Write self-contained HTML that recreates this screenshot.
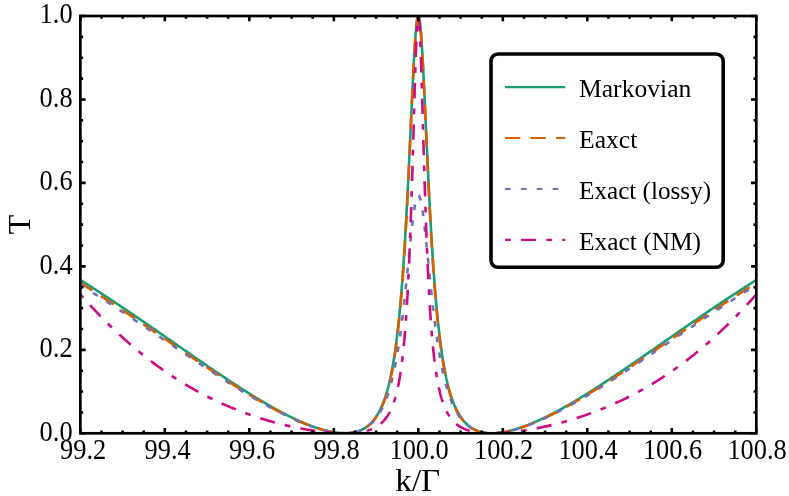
<!DOCTYPE html>
<html><head><meta charset="utf-8"><title>Transmission</title>
<style>
html,body{margin:0;padding:0;background:#fff;}
body{width:789px;height:496px;position:relative;overflow:hidden;font-family:"Liberation Serif",serif;}
</style></head><body>
<svg width="789" height="496" viewBox="0 0 789 496" style="position:absolute;left:0;top:0;will-change:transform">
<defs><clipPath id="c"><rect x="80.35" y="16.0" width="675.9499999999999" height="417.3"/></clipPath></defs>
<g clip-path="url(#c)" fill="none" stroke-linejoin="round">
<path d="M80.35,279.97 L81.41,280.63 L82.46,281.30 L83.52,281.97 L84.57,282.64 L85.63,283.31 L86.69,283.99 L87.74,284.66 L88.80,285.34 L89.86,286.01 L90.91,286.69 L91.97,287.37 L93.02,288.05 L94.08,288.73 L95.14,289.42 L96.19,290.10 L97.25,290.79 L98.30,291.47 L99.36,292.16 L100.42,292.85 L101.47,293.54 L102.53,294.23 L103.59,294.92 L104.64,295.61 L105.70,296.31 L106.75,297.00 L107.81,297.70 L108.87,298.40 L109.92,299.09 L110.98,299.79 L112.04,300.49 L113.09,301.19 L114.15,301.90 L115.20,302.60 L116.26,303.30 L117.32,304.01 L118.37,304.72 L119.43,305.42 L120.48,306.13 L121.54,306.84 L122.60,307.55 L123.65,308.26 L124.71,308.97 L125.77,309.68 L126.82,310.40 L127.88,311.11 L128.93,311.83 L129.99,312.54 L131.05,313.26 L132.10,313.98 L133.16,314.69 L134.21,315.41 L135.27,316.13 L136.33,316.85 L137.38,317.57 L138.44,318.29 L139.50,319.02 L140.55,319.74 L141.61,320.46 L142.66,321.19 L143.72,321.91 L144.78,322.64 L145.83,323.36 L146.89,324.09 L147.94,324.82 L149.00,325.54 L150.06,326.27 L151.11,327.00 L152.17,327.73 L153.23,328.46 L154.28,329.19 L155.34,329.92 L156.39,330.65 L157.45,331.38 L158.51,332.11 L159.56,332.85 L160.62,333.58 L161.68,334.31 L162.73,335.04 L163.79,335.78 L164.84,336.51 L165.90,337.24 L166.96,337.98 L168.01,338.71 L169.07,339.44 L170.12,340.18 L171.18,340.91 L172.24,341.65 L173.29,342.38 L174.35,343.11 L175.41,343.85 L176.46,344.58 L177.52,345.32 L178.57,346.05 L179.63,346.79 L180.69,347.52 L181.74,348.25 L182.80,348.99 L183.85,349.72 L184.91,350.45 L185.97,351.19 L187.02,351.92 L188.08,352.65 L189.14,353.38 L190.19,354.12 L191.25,354.85 L192.30,355.58 L193.36,356.31 L194.42,357.04 L195.47,357.77 L196.53,358.50 L197.59,359.23 L198.64,359.96 L199.70,360.68 L200.75,361.41 L201.81,362.14 L202.87,362.86 L203.92,363.59 L204.98,364.31 L206.03,365.03 L207.09,365.76 L208.15,366.48 L209.20,367.20 L210.26,367.92 L211.32,368.64 L212.37,369.36 L213.43,370.07 L214.48,370.79 L215.54,371.50 L216.60,372.22 L217.65,372.93 L218.71,373.64 L219.76,374.35 L220.82,375.06 L221.88,375.77 L222.93,376.47 L223.99,377.18 L225.05,377.88 L226.10,378.59 L227.16,379.29 L228.21,379.99 L229.27,380.68 L230.33,381.38 L231.38,382.07 L232.44,382.77 L233.49,383.46 L234.55,384.15 L235.61,384.83 L236.66,385.52 L237.72,386.20 L238.78,386.88 L239.83,387.56 L240.89,388.24 L241.94,388.92 L243.00,389.59 L244.06,390.26 L245.11,390.93 L246.17,391.60 L247.23,392.26 L248.28,392.93 L249.34,393.59 L250.39,394.24 L251.45,394.90 L252.51,395.55 L253.56,396.20 L254.62,396.85 L255.67,397.49 L256.73,398.14 L257.79,398.78 L258.84,399.41 L259.90,400.05 L260.96,400.68 L262.01,401.30 L263.07,401.93 L264.12,402.55 L265.18,403.17 L266.24,403.78 L267.29,404.39 L268.35,405.00 L269.40,405.61 L270.46,406.21 L271.52,406.81 L272.57,407.40 L273.63,407.99 L274.69,408.58 L275.74,409.16 L276.80,409.74 L277.85,410.31 L278.91,410.88 L279.97,411.45 L281.02,412.01 L282.08,412.57 L283.14,413.13 L284.19,413.68 L285.25,414.22 L286.30,414.76 L287.36,415.30 L288.42,415.83 L289.47,416.35 L290.53,416.88 L291.58,417.39 L292.64,417.90 L293.70,418.41 L294.75,418.91 L295.81,419.40 L296.87,419.89 L297.92,420.38 L298.98,420.85 L300.03,421.33 L301.09,421.79 L302.15,422.25 L303.20,422.71 L304.26,423.15 L305.31,423.59 L306.37,424.03 L307.43,424.45 L308.48,424.87 L309.54,425.29 L310.60,425.69 L311.65,426.09 L312.71,426.48 L313.76,426.86 L314.82,427.24 L315.88,427.60 L316.93,427.96 L317.99,428.31 L319.04,428.65 L320.10,428.98 L321.16,429.30 L322.21,429.61 L323.27,429.91 L324.33,430.21 L325.38,430.49 L326.44,430.76 L327.49,431.02 L328.55,431.26 L329.61,431.50 L330.66,431.72 L331.72,431.93 L332.78,432.13 L333.83,432.32 L334.89,432.49 L335.94,432.64 L337.00,432.78 L338.06,432.91 L339.11,433.02 L340.17,433.11 L341.22,433.18 L342.28,433.24 L343.34,433.28 L344.39,433.30 L345.45,433.30 L346.51,433.27 L347.56,433.23 L348.62,433.16 L349.67,433.06 L350.73,432.94 L351.79,432.80 L352.84,432.62 L353.90,432.42 L354.95,432.18 L356.01,431.91 L357.07,431.61 L358.12,431.27 L359.18,430.89 L360.24,430.47 L361.29,430.00 L362.35,429.49 L363.40,428.93 L364.46,428.31 L365.52,427.64 L366.57,426.92 L367.63,426.12 L368.68,425.26 L369.74,424.32 L370.80,423.31 L371.85,422.21 L372.91,421.02 L373.97,419.73 L375.02,418.33 L376.08,416.82 L377.13,415.19 L378.19,413.41 L379.25,411.49 L380.30,409.41 L381.36,407.16 L382.42,404.71 L383.47,402.06 L384.53,399.17 L384.53,399.17 L384.63,398.87 L384.74,398.56 L384.84,398.26 L384.95,397.95 L385.06,397.63 L385.16,397.32 L385.27,397.00 L385.37,396.68 L385.48,396.36 L385.58,396.03 L385.58,396.03 L385.69,395.70 L385.79,395.37 L385.90,395.04 L386.01,394.70 L386.11,394.36 L386.22,394.02 L386.32,393.67 L386.43,393.32 L386.53,392.97 L386.64,392.61 L386.64,392.61 L386.75,392.26 L386.85,391.89 L386.96,391.53 L387.06,391.16 L387.17,390.79 L387.27,390.42 L387.38,390.04 L387.48,389.66 L387.59,389.28 L387.70,388.89 L387.80,388.50 L387.91,388.11 L388.01,387.71 L388.12,387.31 L388.22,386.90 L388.33,386.50 L388.44,386.09 L388.54,385.67 L388.65,385.25 L388.75,384.83 L388.75,384.83 L388.86,384.40 L388.96,383.97 L389.07,383.54 L389.17,383.10 L389.28,382.66 L389.39,382.22 L389.49,381.77 L389.60,381.31 L389.70,380.86 L389.81,380.39 L389.91,379.93 L390.02,379.46 L390.13,378.99 L390.23,378.51 L390.34,378.03 L390.44,377.54 L390.55,377.05 L390.65,376.55 L390.76,376.05 L390.86,375.55 L390.86,375.55 L390.97,375.04 L391.08,374.52 L391.18,374.01 L391.29,373.48 L391.39,372.95 L391.50,372.42 L391.60,371.88 L391.71,371.34 L391.82,370.79 L391.92,370.24 L392.03,369.68 L392.13,369.12 L392.24,368.55 L392.34,367.98 L392.45,367.40 L392.55,366.82 L392.66,366.23 L392.77,365.63 L392.87,365.03 L392.98,364.43 L392.98,364.43 L393.08,363.82 L393.19,363.20 L393.29,362.58 L393.40,361.95 L393.50,361.31 L393.61,360.67 L393.72,360.03 L393.82,359.37 L393.93,358.71 L394.03,358.05 L394.03,358.05 L394.14,357.38 L394.24,356.70 L394.35,356.02 L394.46,355.33 L394.56,354.63 L394.67,353.93 L394.77,353.22 L394.88,352.50 L394.98,351.78 L395.09,351.05 L395.09,351.05 L395.19,350.31 L395.30,349.57 L395.41,348.82 L395.51,348.06 L395.62,347.29 L395.72,346.52 L395.83,345.74 L395.93,344.95 L396.04,344.16 L396.15,343.35 L396.15,343.35 L396.25,342.54 L396.36,341.72 L396.46,340.90 L396.57,340.06 L396.67,339.22 L396.78,338.37 L396.88,337.51 L396.99,336.65 L397.10,335.77 L397.20,334.89 L397.20,334.89 L397.31,334.00 L397.41,333.10 L397.52,332.19 L397.62,331.27 L397.73,330.34 L397.84,329.41 L397.94,328.47 L398.05,327.51 L398.15,326.55 L398.26,325.58 L398.26,325.58 L398.36,324.60 L398.47,323.60 L398.57,322.60 L398.68,321.59 L398.79,320.57 L398.89,319.54 L399.00,318.51 L399.10,317.46 L399.21,316.40 L399.31,315.33 L399.31,315.33 L399.42,314.25 L399.53,313.16 L399.63,312.05 L399.74,310.94 L399.84,309.82 L399.95,308.69 L400.05,307.54 L400.16,306.39 L400.26,305.22 L400.37,304.04 L400.37,304.04 L400.48,302.86 L400.58,301.66 L400.69,300.44 L400.79,299.22 L400.90,297.99 L401.00,296.74 L401.11,295.48 L401.22,294.21 L401.32,292.93 L401.43,291.64 L401.43,291.64 L401.53,290.33 L401.64,289.01 L401.74,287.68 L401.85,286.34 L401.95,284.98 L402.06,283.61 L402.17,282.23 L402.27,280.84 L402.38,279.43 L402.48,278.01 L402.48,278.01 L402.59,276.58 L402.69,275.13 L402.80,273.67 L402.90,272.20 L403.01,270.71 L403.12,269.21 L403.22,267.70 L403.33,266.17 L403.43,264.63 L403.54,263.08 L403.54,263.08 L403.64,261.51 L403.75,259.93 L403.86,258.33 L403.96,256.72 L404.07,255.10 L404.17,253.46 L404.28,251.81 L404.38,250.14 L404.49,248.46 L404.59,246.77 L404.59,246.77 L404.70,245.06 L404.81,243.33 L404.91,241.60 L405.02,239.85 L405.12,238.08 L405.23,236.30 L405.33,234.50 L405.44,232.70 L405.55,230.87 L405.65,229.04 L405.65,229.04 L405.76,227.18 L405.86,225.32 L405.97,223.44 L406.07,221.54 L406.18,219.64 L406.28,217.71 L406.39,215.78 L406.50,213.83 L406.60,211.86 L406.71,209.89 L406.71,209.89 L406.81,207.90 L406.92,205.89 L407.02,203.87 L407.13,201.84 L407.24,199.80 L407.34,197.74 L407.45,195.67 L407.55,193.59 L407.66,191.50 L407.76,189.39 L407.76,189.39 L407.87,187.27 L407.97,185.14 L408.08,183.00 L408.19,180.85 L408.29,178.69 L408.40,176.51 L408.50,174.33 L408.61,172.13 L408.71,169.93 L408.82,167.71 L408.82,167.71 L408.93,165.49 L409.03,163.26 L409.14,161.02 L409.24,158.77 L409.35,156.51 L409.45,154.25 L409.56,151.98 L409.66,149.71 L409.77,147.42 L409.88,145.14 L409.88,145.14 L409.98,142.85 L410.09,140.55 L410.19,138.25 L410.30,135.95 L410.40,133.64 L410.51,131.34 L410.61,129.03 L410.72,126.72 L410.83,124.41 L410.93,122.11 L410.93,122.11 L411.04,119.80 L411.14,117.50 L411.25,115.19 L411.35,112.90 L411.46,110.60 L411.57,108.32 L411.67,106.03 L411.78,103.76 L411.88,101.49 L411.99,99.23 L411.99,99.23 L412.09,96.98 L412.20,94.74 L412.30,92.52 L412.41,90.30 L412.52,88.10 L412.62,85.91 L412.73,83.74 L412.83,81.58 L412.94,79.44 L413.04,77.31 L413.04,77.31 L413.15,75.21 L413.26,73.12 L413.36,71.06 L413.47,69.02 L413.57,67.00 L413.68,65.01 L413.78,63.04 L413.89,61.10 L413.99,59.18 L414.10,57.29 L414.10,57.29 L414.21,55.43 L414.31,53.61 L414.42,51.81 L414.52,50.05 L414.63,48.32 L414.73,46.62 L414.84,44.96 L414.95,43.34 L415.05,41.76 L415.16,40.21 L415.16,40.21 L415.26,38.71 L415.37,37.24 L415.47,35.82 L415.58,34.44 L415.68,33.10 L415.79,31.81 L415.90,30.56 L416.00,29.36 L416.11,28.20 L416.21,27.10 L416.32,26.04 L416.42,25.03 L416.53,24.07 L416.64,23.17 L416.74,22.31 L416.85,21.51 L416.95,20.76 L417.06,20.06 L417.16,19.42 L417.27,18.83 L417.27,18.83 L417.37,18.29 L417.48,17.81 L417.59,17.39 L417.69,17.02 L417.80,16.71 L417.90,16.45 L418.01,16.26 L418.11,16.11 L418.22,16.03 L418.32,16.00 L418.43,16.03 L418.54,16.11 L418.64,16.26 L418.75,16.45 L418.85,16.71 L418.96,17.02 L419.06,17.39 L419.17,17.81 L419.28,18.29 L419.38,18.83 L419.38,18.83 L419.49,19.42 L419.59,20.06 L419.70,20.76 L419.80,21.51 L419.91,22.31 L420.01,23.17 L420.12,24.07 L420.23,25.03 L420.33,26.04 L420.44,27.10 L420.54,28.20 L420.65,29.36 L420.75,30.56 L420.86,31.81 L420.97,33.10 L421.07,34.44 L421.18,35.82 L421.28,37.24 L421.39,38.71 L421.49,40.21 L421.49,40.21 L421.60,41.76 L421.70,43.34 L421.81,44.96 L421.92,46.62 L422.02,48.32 L422.13,50.05 L422.23,51.81 L422.34,53.61 L422.44,55.43 L422.55,57.29 L422.55,57.29 L422.66,59.18 L422.76,61.10 L422.87,63.04 L422.97,65.01 L423.08,67.00 L423.18,69.02 L423.29,71.06 L423.39,73.12 L423.50,75.21 L423.61,77.31 L423.61,77.31 L423.71,79.44 L423.82,81.58 L423.92,83.74 L424.03,85.91 L424.13,88.10 L424.24,90.30 L424.35,92.52 L424.45,94.74 L424.56,96.98 L424.66,99.23 L424.66,99.23 L424.77,101.49 L424.87,103.76 L424.98,106.03 L425.08,108.32 L425.19,110.60 L425.30,112.90 L425.40,115.19 L425.51,117.50 L425.61,119.80 L425.72,122.11 L425.72,122.11 L425.82,124.41 L425.93,126.72 L426.04,129.03 L426.14,131.34 L426.25,133.64 L426.35,135.95 L426.46,138.25 L426.56,140.55 L426.67,142.85 L426.77,145.14 L426.77,145.14 L426.88,147.42 L426.99,149.71 L427.09,151.98 L427.20,154.25 L427.30,156.51 L427.41,158.77 L427.51,161.02 L427.62,163.26 L427.72,165.49 L427.83,167.71 L427.83,167.71 L427.94,169.93 L428.04,172.13 L428.15,174.33 L428.25,176.51 L428.36,178.69 L428.46,180.85 L428.57,183.00 L428.68,185.14 L428.78,187.27 L428.89,189.39 L428.89,189.39 L428.99,191.50 L429.10,193.59 L429.20,195.67 L429.31,197.74 L429.41,199.80 L429.52,201.84 L429.63,203.87 L429.73,205.89 L429.84,207.90 L429.94,209.89 L429.94,209.89 L430.05,211.86 L430.15,213.83 L430.26,215.78 L430.37,217.71 L430.47,219.64 L430.58,221.54 L430.68,223.44 L430.79,225.32 L430.89,227.18 L431.00,229.04 L431.00,229.04 L431.10,230.87 L431.21,232.70 L431.32,234.50 L431.42,236.30 L431.53,238.08 L431.63,239.85 L431.74,241.60 L431.84,243.33 L431.95,245.06 L432.06,246.77 L432.06,246.77 L432.16,248.46 L432.27,250.14 L432.37,251.81 L432.48,253.46 L432.58,255.10 L432.69,256.72 L432.79,258.33 L432.90,259.93 L433.01,261.51 L433.11,263.08 L433.11,263.08 L433.22,264.63 L433.32,266.17 L433.43,267.70 L433.53,269.21 L433.64,270.71 L433.75,272.20 L433.85,273.67 L433.96,275.13 L434.06,276.58 L434.17,278.01 L434.17,278.01 L434.27,279.43 L434.38,280.84 L434.48,282.23 L434.59,283.61 L434.70,284.98 L434.80,286.34 L434.91,287.68 L435.01,289.01 L435.12,290.33 L435.22,291.64 L435.22,291.64 L435.33,292.93 L435.43,294.21 L435.54,295.48 L435.65,296.74 L435.75,297.99 L435.86,299.22 L435.96,300.44 L436.07,301.66 L436.17,302.86 L436.28,304.04 L436.28,304.04 L436.39,305.22 L436.49,306.39 L436.60,307.54 L436.70,308.69 L436.81,309.82 L436.91,310.94 L437.02,312.05 L437.12,313.16 L437.23,314.25 L437.34,315.33 L437.34,315.33 L437.44,316.40 L437.55,317.46 L437.65,318.51 L437.76,319.54 L437.86,320.57 L437.97,321.59 L438.08,322.60 L438.18,323.60 L438.29,324.60 L438.39,325.58 L438.39,325.58 L438.50,326.55 L438.60,327.51 L438.71,328.47 L438.81,329.41 L438.92,330.34 L439.03,331.27 L439.13,332.19 L439.24,333.10 L439.34,334.00 L439.45,334.89 L439.45,334.89 L439.55,335.77 L439.66,336.65 L439.77,337.51 L439.87,338.37 L439.98,339.22 L440.08,340.06 L440.19,340.90 L440.29,341.72 L440.40,342.54 L440.50,343.35 L440.50,343.35 L440.61,344.16 L440.72,344.95 L440.82,345.74 L440.93,346.52 L441.03,347.29 L441.14,348.06 L441.24,348.82 L441.35,349.57 L441.46,350.31 L441.56,351.05 L441.56,351.05 L441.67,351.78 L441.77,352.50 L441.88,353.22 L441.98,353.93 L442.09,354.63 L442.19,355.33 L442.30,356.02 L442.41,356.70 L442.51,357.38 L442.62,358.05 L442.62,358.05 L442.72,358.71 L442.83,359.37 L442.93,360.03 L443.04,360.67 L443.15,361.31 L443.25,361.95 L443.36,362.58 L443.46,363.20 L443.57,363.82 L443.67,364.43 L443.67,364.43 L443.78,365.03 L443.88,365.63 L443.99,366.23 L444.10,366.82 L444.20,367.40 L444.31,367.98 L444.41,368.55 L444.52,369.12 L444.62,369.68 L444.73,370.24 L444.73,370.24 L444.83,370.79 L444.94,371.34 L445.05,371.88 L445.15,372.42 L445.26,372.95 L445.36,373.48 L445.47,374.01 L445.57,374.52 L445.68,375.04 L445.79,375.55 L445.79,375.55 L445.89,376.05 L446.00,376.55 L446.10,377.05 L446.21,377.54 L446.31,378.03 L446.42,378.51 L446.52,378.99 L446.63,379.46 L446.74,379.93 L446.84,380.39 L446.84,380.39 L446.95,380.86 L447.05,381.31 L447.16,381.77 L447.26,382.22 L447.37,382.66 L447.48,383.10 L447.58,383.54 L447.69,383.97 L447.79,384.40 L447.90,384.83 L447.90,384.83 L448.00,385.25 L448.11,385.67 L448.21,386.09 L448.32,386.50 L448.43,386.90 L448.53,387.31 L448.64,387.71 L448.74,388.11 L448.85,388.50 L448.95,388.89 L448.95,388.89 L449.06,389.28 L449.17,389.66 L449.27,390.04 L449.38,390.42 L449.48,390.79 L449.59,391.16 L449.69,391.53 L449.80,391.89 L449.90,392.26 L450.01,392.61 L450.01,392.61 L450.12,392.97 L450.22,393.32 L450.33,393.67 L450.43,394.02 L450.54,394.36 L450.64,394.70 L450.75,395.04 L450.86,395.37 L450.96,395.70 L451.07,396.03 L451.07,396.03 L451.17,396.36 L451.28,396.68 L451.38,397.00 L451.49,397.32 L451.59,397.63 L451.70,397.95 L451.81,398.26 L451.91,398.56 L452.02,398.87 L452.12,399.17 L452.12,399.17 L453.18,402.06 L454.23,404.71 L455.29,407.16 L456.35,409.41 L457.40,411.49 L458.46,413.41 L459.52,415.19 L460.57,416.82 L461.63,418.33 L462.68,419.73 L463.74,421.02 L464.80,422.21 L465.85,423.31 L466.91,424.32 L467.97,425.26 L469.02,426.12 L470.08,426.92 L471.13,427.64 L472.19,428.31 L473.25,428.93 L474.30,429.49 L475.36,430.00 L476.41,430.47 L477.47,430.89 L478.53,431.27 L479.58,431.61 L480.64,431.91 L481.70,432.18 L482.75,432.42 L483.81,432.62 L484.86,432.80 L485.92,432.94 L486.98,433.06 L488.03,433.16 L489.09,433.23 L490.14,433.27 L491.20,433.30 L492.26,433.30 L493.31,433.28 L494.37,433.24 L495.43,433.18 L496.48,433.11 L497.54,433.02 L498.59,432.91 L499.65,432.78 L500.71,432.64 L501.76,432.49 L502.82,432.32 L503.87,432.13 L504.93,431.93 L505.99,431.72 L507.04,431.50 L508.10,431.26 L509.16,431.02 L510.21,430.76 L511.27,430.49 L512.32,430.21 L513.38,429.91 L514.44,429.61 L515.49,429.30 L516.55,428.98 L517.61,428.65 L518.66,428.31 L519.72,427.96 L520.77,427.60 L521.83,427.24 L522.89,426.86 L523.94,426.48 L525.00,426.09 L526.05,425.69 L527.11,425.29 L528.17,424.87 L529.22,424.45 L530.28,424.03 L531.34,423.59 L532.39,423.15 L533.45,422.71 L534.50,422.25 L535.56,421.79 L536.62,421.33 L537.67,420.85 L538.73,420.38 L539.78,419.89 L540.84,419.40 L541.90,418.91 L542.95,418.41 L544.01,417.90 L545.07,417.39 L546.12,416.88 L547.18,416.35 L548.23,415.83 L549.29,415.30 L550.35,414.76 L551.40,414.22 L552.46,413.68 L553.51,413.13 L554.57,412.57 L555.63,412.01 L556.68,411.45 L557.74,410.88 L558.80,410.31 L559.85,409.74 L560.91,409.16 L561.96,408.58 L563.02,407.99 L564.08,407.40 L565.13,406.81 L566.19,406.21 L567.25,405.61 L568.30,405.00 L569.36,404.39 L570.41,403.78 L571.47,403.17 L572.53,402.55 L573.58,401.93 L574.64,401.30 L575.69,400.68 L576.75,400.05 L577.81,399.41 L578.86,398.78 L579.92,398.14 L580.98,397.49 L582.03,396.85 L583.09,396.20 L584.14,395.55 L585.20,394.90 L586.26,394.24 L587.31,393.59 L588.37,392.93 L589.42,392.26 L590.48,391.60 L591.54,390.93 L592.59,390.26 L593.65,389.59 L594.71,388.92 L595.76,388.24 L596.82,387.56 L597.87,386.88 L598.93,386.20 L599.99,385.52 L601.04,384.83 L602.10,384.15 L603.16,383.46 L604.21,382.77 L605.27,382.07 L606.32,381.38 L607.38,380.68 L608.44,379.99 L609.49,379.29 L610.55,378.59 L611.60,377.88 L612.66,377.18 L613.72,376.47 L614.77,375.77 L615.83,375.06 L616.89,374.35 L617.94,373.64 L619.00,372.93 L620.05,372.22 L621.11,371.50 L622.17,370.79 L623.22,370.07 L624.28,369.36 L625.33,368.64 L626.39,367.92 L627.45,367.20 L628.50,366.48 L629.56,365.76 L630.62,365.03 L631.67,364.31 L632.73,363.59 L633.78,362.86 L634.84,362.14 L635.90,361.41 L636.95,360.68 L638.01,359.96 L639.06,359.23 L640.12,358.50 L641.18,357.77 L642.23,357.04 L643.29,356.31 L644.35,355.58 L645.40,354.85 L646.46,354.12 L647.51,353.38 L648.57,352.65 L649.63,351.92 L650.68,351.19 L651.74,350.45 L652.80,349.72 L653.85,348.99 L654.91,348.25 L655.96,347.52 L657.02,346.79 L658.08,346.05 L659.13,345.32 L660.19,344.58 L661.24,343.85 L662.30,343.11 L663.36,342.38 L664.41,341.65 L665.47,340.91 L666.53,340.18 L667.58,339.44 L668.64,338.71 L669.69,337.98 L670.75,337.24 L671.81,336.51 L672.86,335.78 L673.92,335.04 L674.97,334.31 L676.03,333.58 L677.09,332.85 L678.14,332.11 L679.20,331.38 L680.26,330.65 L681.31,329.92 L682.37,329.19 L683.42,328.46 L684.48,327.73 L685.54,327.00 L686.59,326.27 L687.65,325.54 L688.70,324.82 L689.76,324.09 L690.82,323.36 L691.87,322.64 L692.93,321.91 L693.99,321.19 L695.04,320.46 L696.10,319.74 L697.15,319.02 L698.21,318.29 L699.27,317.57 L700.32,316.85 L701.38,316.13 L702.44,315.41 L703.49,314.69 L704.55,313.98 L705.60,313.26 L706.66,312.54 L707.72,311.83 L708.77,311.11 L709.83,310.40 L710.88,309.68 L711.94,308.97 L713.00,308.26 L714.05,307.55 L715.11,306.84 L716.17,306.13 L717.22,305.42 L718.28,304.72 L719.33,304.01 L720.39,303.30 L721.45,302.60 L722.50,301.90 L723.56,301.19 L724.61,300.49 L725.67,299.79 L726.73,299.09 L727.78,298.40 L728.84,297.70 L729.90,297.00 L730.95,296.31 L732.01,295.61 L733.06,294.92 L734.12,294.23 L735.18,293.54 L736.23,292.85 L737.29,292.16 L738.35,291.47 L739.40,290.79 L740.46,290.10 L741.51,289.42 L742.57,288.73 L743.63,288.05 L744.68,287.37 L745.74,286.69 L746.79,286.01 L747.85,285.34 L748.91,284.66 L749.96,283.99 L751.02,283.31 L752.08,282.64 L753.13,281.97 L754.19,281.30 L755.24,280.63 L756.30,279.97" stroke="#1b9e77" stroke-width="2.6"/>
<path d="M80.35,282.92 L81.41,283.58 L82.46,284.25 L83.52,284.91 L84.57,285.57 L85.63,286.24 L86.69,286.91 L87.74,287.58 L88.80,288.25 L89.86,288.92 L90.91,289.59 L91.97,290.26 L93.02,290.94 L94.08,291.61 L95.14,292.29 L96.19,292.97 L97.25,293.65 L98.30,294.33 L99.36,295.01 L100.42,295.69 L101.47,296.37 L102.53,297.06 L103.59,297.74 L104.64,298.43 L105.70,299.11 L106.75,299.80 L107.81,300.49 L108.87,301.18 L109.92,301.87 L110.98,302.56 L112.04,303.26 L113.09,303.95 L114.15,304.64 L115.20,305.34 L116.26,306.04 L117.32,306.73 L118.37,307.43 L119.43,308.13 L120.48,308.83 L121.54,309.53 L122.60,310.23 L123.65,310.93 L124.71,311.64 L125.77,312.34 L126.82,313.05 L127.88,313.75 L128.93,314.46 L129.99,315.16 L131.05,315.87 L132.10,316.58 L133.16,317.29 L134.21,318.00 L135.27,318.71 L136.33,319.42 L137.38,320.13 L138.44,320.84 L139.50,321.55 L140.55,322.27 L141.61,322.98 L142.66,323.69 L143.72,324.41 L144.78,325.12 L145.83,325.84 L146.89,326.55 L147.94,327.27 L149.00,327.99 L150.06,328.71 L151.11,329.42 L152.17,330.14 L153.23,330.86 L154.28,331.58 L155.34,332.30 L156.39,333.02 L157.45,333.74 L158.51,334.46 L159.56,335.18 L160.62,335.90 L161.68,336.62 L162.73,337.34 L163.79,338.06 L164.84,338.78 L165.90,339.50 L166.96,340.23 L168.01,340.95 L169.07,341.67 L170.12,342.39 L171.18,343.11 L172.24,343.83 L173.29,344.56 L174.35,345.28 L175.41,346.00 L176.46,346.72 L177.52,347.44 L178.57,348.16 L179.63,348.88 L180.69,349.61 L181.74,350.33 L182.80,351.05 L183.85,351.77 L184.91,352.49 L185.97,353.21 L187.02,353.93 L188.08,354.64 L189.14,355.36 L190.19,356.08 L191.25,356.80 L192.30,357.52 L193.36,358.23 L194.42,358.95 L195.47,359.66 L196.53,360.38 L197.59,361.09 L198.64,361.81 L199.70,362.52 L200.75,363.23 L201.81,363.94 L202.87,364.66 L203.92,365.37 L204.98,366.07 L206.03,366.78 L207.09,367.49 L208.15,368.20 L209.20,368.90 L210.26,369.61 L211.32,370.31 L212.37,371.02 L213.43,371.72 L214.48,372.42 L215.54,373.12 L216.60,373.82 L217.65,374.51 L218.71,375.21 L219.76,375.90 L220.82,376.60 L221.88,377.29 L222.93,377.98 L223.99,378.67 L225.05,379.36 L226.10,380.04 L227.16,380.73 L228.21,381.41 L229.27,382.09 L230.33,382.77 L231.38,383.45 L232.44,384.13 L233.49,384.80 L234.55,385.48 L235.61,386.15 L236.66,386.82 L237.72,387.48 L238.78,388.15 L239.83,388.81 L240.89,389.47 L241.94,390.13 L243.00,390.79 L244.06,391.45 L245.11,392.10 L246.17,392.75 L247.23,393.40 L248.28,394.04 L249.34,394.69 L250.39,395.33 L251.45,395.97 L252.51,396.60 L253.56,397.24 L254.62,397.87 L255.67,398.50 L256.73,399.12 L257.79,399.75 L258.84,400.37 L259.90,400.98 L260.96,401.60 L262.01,402.21 L263.07,402.82 L264.12,403.42 L265.18,404.02 L266.24,404.62 L267.29,405.22 L268.35,405.81 L269.40,406.40 L270.46,406.98 L271.52,407.57 L272.57,408.14 L273.63,408.72 L274.69,409.29 L275.74,409.86 L276.80,410.42 L277.85,410.98 L278.91,411.53 L279.97,412.09 L281.02,412.63 L282.08,413.18 L283.14,413.71 L284.19,414.25 L285.25,414.78 L286.30,415.30 L287.36,415.83 L288.42,416.34 L289.47,416.85 L290.53,417.36 L291.58,417.86 L292.64,418.36 L293.70,418.85 L294.75,419.34 L295.81,419.82 L296.87,420.29 L297.92,420.76 L298.98,421.23 L300.03,421.68 L301.09,422.14 L302.15,422.58 L303.20,423.02 L304.26,423.46 L305.31,423.88 L306.37,424.31 L307.43,424.72 L308.48,425.13 L309.54,425.53 L310.60,425.92 L311.65,426.31 L312.71,426.69 L313.76,427.06 L314.82,427.42 L315.88,427.78 L316.93,428.12 L317.99,428.46 L319.04,428.79 L320.10,429.11 L321.16,429.42 L322.21,429.72 L323.27,430.02 L324.33,430.30 L325.38,430.57 L326.44,430.83 L327.49,431.09 L328.55,431.33 L329.61,431.55 L330.66,431.77 L331.72,431.98 L332.78,432.17 L333.83,432.35 L334.89,432.51 L335.94,432.66 L337.00,432.80 L338.06,432.92 L339.11,433.03 L340.17,433.12 L341.22,433.19 L342.28,433.24 L343.34,433.28 L344.39,433.30 L345.45,433.30 L346.51,433.27 L347.56,433.23 L348.62,433.16 L349.67,433.07 L350.73,432.95 L351.79,432.81 L352.84,432.64 L353.90,432.44 L354.95,432.22 L356.01,431.95 L357.07,431.66 L358.12,431.33 L359.18,430.96 L360.24,430.55 L361.29,430.10 L362.35,429.61 L363.40,429.06 L364.46,428.47 L365.52,427.82 L366.57,427.11 L367.63,426.34 L368.68,425.50 L369.74,424.59 L370.80,423.61 L371.85,422.54 L372.91,421.38 L373.97,420.13 L375.02,418.78 L376.08,417.31 L377.13,415.72 L378.19,414.00 L379.25,412.13 L380.30,410.11 L381.36,407.91 L382.42,405.53 L383.47,402.95 L384.53,400.14 L384.53,400.14 L384.63,399.84 L384.74,399.54 L384.84,399.24 L384.95,398.94 L385.06,398.64 L385.16,398.33 L385.27,398.02 L385.37,397.71 L385.48,397.39 L385.58,397.08 L385.58,397.08 L385.69,396.76 L385.79,396.43 L385.90,396.11 L386.01,395.78 L386.11,395.45 L386.22,395.11 L386.32,394.77 L386.43,394.43 L386.53,394.09 L386.64,393.75 L386.64,393.75 L386.75,393.40 L386.85,393.04 L386.96,392.69 L387.06,392.33 L387.17,391.97 L387.27,391.60 L387.38,391.24 L387.48,390.87 L387.59,390.49 L387.70,390.11 L387.80,389.73 L387.91,389.35 L388.01,388.96 L388.12,388.57 L388.22,388.18 L388.33,387.78 L388.44,387.38 L388.54,386.97 L388.65,386.56 L388.75,386.15 L388.75,386.15 L388.86,385.73 L388.96,385.31 L389.07,384.89 L389.17,384.46 L389.28,384.03 L389.39,383.60 L389.49,383.16 L389.60,382.72 L389.70,382.27 L389.81,381.82 L389.91,381.36 L390.02,380.91 L390.13,380.44 L390.23,379.98 L390.34,379.50 L390.44,379.03 L390.55,378.55 L390.65,378.06 L390.76,377.57 L390.86,377.08 L390.86,377.08 L390.97,376.58 L391.08,376.08 L391.18,375.57 L391.29,375.06 L391.39,374.55 L391.50,374.03 L391.60,373.50 L391.71,372.97 L391.82,372.43 L391.92,371.89 L392.03,371.35 L392.13,370.80 L392.24,370.24 L392.34,369.68 L392.45,369.11 L392.55,368.54 L392.66,367.97 L392.77,367.38 L392.87,366.80 L392.98,366.20 L392.98,366.20 L393.08,365.60 L393.19,365.00 L393.29,364.39 L393.40,363.77 L393.50,363.15 L393.61,362.52 L393.72,361.89 L393.82,361.25 L393.93,360.61 L394.03,359.95 L394.03,359.95 L394.14,359.30 L394.24,358.63 L394.35,357.96 L394.46,357.29 L394.56,356.60 L394.67,355.91 L394.77,355.22 L394.88,354.51 L394.98,353.81 L395.09,353.09 L395.09,353.09 L395.19,352.37 L395.30,351.64 L395.41,350.90 L395.51,350.15 L395.62,349.40 L395.72,348.64 L395.83,347.88 L395.93,347.10 L396.04,346.32 L396.15,345.53 L396.15,345.53 L396.25,344.74 L396.36,343.93 L396.46,343.12 L396.57,342.30 L396.67,341.48 L396.78,340.64 L396.88,339.80 L396.99,338.95 L397.10,338.09 L397.20,337.22 L397.20,337.22 L397.31,336.34 L397.41,335.45 L397.52,334.56 L397.62,333.66 L397.73,332.75 L397.84,331.82 L397.94,330.89 L398.05,329.96 L398.15,329.01 L398.26,328.05 L398.26,328.05 L398.36,327.08 L398.47,326.11 L398.57,325.12 L398.68,324.13 L398.79,323.12 L398.89,322.11 L399.00,321.08 L399.10,320.05 L399.21,319.00 L399.31,317.95 L399.31,317.95 L399.42,316.88 L399.53,315.81 L399.63,314.72 L399.74,313.62 L399.84,312.52 L399.95,311.40 L400.05,310.27 L400.16,309.13 L400.26,307.97 L400.37,306.81 L400.37,306.81 L400.48,305.64 L400.58,304.45 L400.69,303.25 L400.79,302.05 L400.90,300.82 L401.00,299.59 L401.11,298.35 L401.22,297.09 L401.32,295.82 L401.43,294.54 L401.43,294.54 L401.53,293.25 L401.64,291.94 L401.74,290.63 L401.85,289.29 L401.95,287.95 L402.06,286.59 L402.17,285.23 L402.27,283.84 L402.38,282.45 L402.48,281.04 L402.48,281.04 L402.59,279.62 L402.69,278.18 L402.80,276.73 L402.90,275.27 L403.01,273.80 L403.12,272.31 L403.22,270.80 L403.33,269.29 L403.43,267.76 L403.54,266.21 L403.54,266.21 L403.64,264.65 L403.75,263.08 L403.86,261.49 L403.96,259.89 L404.07,258.28 L404.17,256.64 L404.28,255.00 L404.38,253.34 L404.49,251.67 L404.59,249.98 L404.59,249.98 L404.70,248.28 L404.81,246.56 L404.91,244.83 L405.02,243.08 L405.12,241.32 L405.23,239.54 L405.33,237.75 L405.44,235.94 L405.55,234.12 L405.65,232.29 L405.65,232.29 L405.76,230.44 L405.86,228.57 L405.97,226.69 L406.07,224.80 L406.18,222.89 L406.28,220.97 L406.39,219.03 L406.50,217.08 L406.60,215.11 L406.71,213.13 L406.71,213.13 L406.81,211.13 L406.92,209.12 L407.02,207.10 L407.13,205.07 L407.24,203.01 L407.34,200.95 L407.45,198.87 L407.55,196.78 L407.66,194.68 L407.76,192.56 L407.76,192.56 L407.87,190.43 L407.97,188.29 L408.08,186.14 L408.19,183.97 L408.29,181.79 L408.40,179.60 L408.50,177.40 L408.61,175.19 L408.71,172.97 L408.82,170.74 L408.82,170.74 L408.93,168.50 L409.03,166.24 L409.14,163.98 L409.24,161.71 L409.35,159.44 L409.45,157.15 L409.56,154.86 L409.66,152.56 L409.77,150.25 L409.88,147.94 L409.88,147.94 L409.98,145.62 L410.09,143.29 L410.19,140.97 L410.30,138.63 L410.40,136.30 L410.51,133.96 L410.61,131.62 L410.72,129.28 L410.83,126.94 L410.93,124.59 L410.93,124.59 L411.04,122.25 L411.14,119.91 L411.25,117.57 L411.35,115.24 L411.46,112.91 L411.57,110.58 L411.67,108.26 L411.78,105.94 L411.88,103.63 L411.99,101.33 L411.99,101.33 L412.09,99.04 L412.20,96.76 L412.30,94.49 L412.41,92.23 L412.52,89.98 L412.62,87.74 L412.73,85.52 L412.83,83.32 L412.94,81.13 L413.04,78.96 L413.04,78.96 L413.15,76.81 L413.26,74.68 L413.36,72.57 L413.47,70.48 L413.57,68.41 L413.68,66.37 L413.78,64.36 L413.89,62.37 L413.99,60.40 L414.10,58.47 L414.10,58.47 L414.21,56.56 L414.31,54.69 L414.42,52.85 L414.52,51.04 L414.63,49.26 L414.73,47.52 L414.84,45.82 L414.95,44.15 L415.05,42.52 L415.16,40.93 L415.16,40.93 L415.26,39.39 L415.37,37.88 L415.47,36.41 L415.58,34.99 L415.68,33.62 L415.79,32.29 L415.90,31.00 L416.00,29.77 L416.11,28.58 L416.21,27.44 L416.32,26.35 L416.42,25.31 L416.53,24.32 L416.64,23.39 L416.74,22.51 L416.85,21.68 L416.95,20.91 L417.06,20.19 L417.16,19.52 L417.27,18.92 L417.27,18.92 L417.37,18.37 L417.48,17.87 L417.59,17.43 L417.69,17.05 L417.80,16.73 L417.90,16.47 L418.01,16.26 L418.11,16.12 L418.22,16.03 L418.32,16.00 L418.43,16.03 L418.54,16.12 L418.64,16.26 L418.75,16.47 L418.85,16.73 L418.96,17.05 L419.06,17.43 L419.17,17.87 L419.28,18.37 L419.38,18.92 L419.38,18.92 L419.49,19.52 L419.59,20.19 L419.70,20.91 L419.80,21.68 L419.91,22.51 L420.01,23.39 L420.12,24.32 L420.23,25.31 L420.33,26.35 L420.44,27.44 L420.54,28.58 L420.65,29.77 L420.75,31.00 L420.86,32.29 L420.97,33.62 L421.07,34.99 L421.18,36.41 L421.28,37.88 L421.39,39.39 L421.49,40.93 L421.49,40.93 L421.60,42.52 L421.70,44.15 L421.81,45.82 L421.92,47.52 L422.02,49.26 L422.13,51.04 L422.23,52.85 L422.34,54.69 L422.44,56.56 L422.55,58.47 L422.55,58.47 L422.66,60.40 L422.76,62.37 L422.87,64.36 L422.97,66.37 L423.08,68.41 L423.18,70.48 L423.29,72.57 L423.39,74.68 L423.50,76.81 L423.61,78.96 L423.61,78.96 L423.71,81.13 L423.82,83.32 L423.92,85.52 L424.03,87.74 L424.13,89.98 L424.24,92.23 L424.35,94.49 L424.45,96.76 L424.56,99.04 L424.66,101.33 L424.66,101.33 L424.77,103.63 L424.87,105.94 L424.98,108.26 L425.08,110.58 L425.19,112.91 L425.30,115.24 L425.40,117.57 L425.51,119.91 L425.61,122.25 L425.72,124.59 L425.72,124.59 L425.82,126.94 L425.93,129.28 L426.04,131.62 L426.14,133.96 L426.25,136.30 L426.35,138.63 L426.46,140.97 L426.56,143.29 L426.67,145.62 L426.77,147.94 L426.77,147.94 L426.88,150.25 L426.99,152.56 L427.09,154.86 L427.20,157.15 L427.30,159.44 L427.41,161.71 L427.51,163.98 L427.62,166.24 L427.72,168.50 L427.83,170.74 L427.83,170.74 L427.94,172.97 L428.04,175.19 L428.15,177.40 L428.25,179.60 L428.36,181.79 L428.46,183.97 L428.57,186.14 L428.68,188.29 L428.78,190.43 L428.89,192.56 L428.89,192.56 L428.99,194.68 L429.10,196.78 L429.20,198.87 L429.31,200.95 L429.41,203.01 L429.52,205.07 L429.63,207.10 L429.73,209.12 L429.84,211.13 L429.94,213.13 L429.94,213.13 L430.05,215.11 L430.15,217.08 L430.26,219.03 L430.37,220.97 L430.47,222.89 L430.58,224.80 L430.68,226.69 L430.79,228.57 L430.89,230.44 L431.00,232.29 L431.00,232.29 L431.10,234.12 L431.21,235.94 L431.32,237.75 L431.42,239.54 L431.53,241.32 L431.63,243.08 L431.74,244.83 L431.84,246.56 L431.95,248.28 L432.06,249.98 L432.06,249.98 L432.16,251.67 L432.27,253.34 L432.37,255.00 L432.48,256.64 L432.58,258.28 L432.69,259.89 L432.79,261.49 L432.90,263.08 L433.01,264.65 L433.11,266.21 L433.11,266.21 L433.22,267.76 L433.32,269.29 L433.43,270.80 L433.53,272.31 L433.64,273.80 L433.75,275.27 L433.85,276.73 L433.96,278.18 L434.06,279.62 L434.17,281.04 L434.17,281.04 L434.27,282.45 L434.38,283.84 L434.48,285.23 L434.59,286.59 L434.70,287.95 L434.80,289.29 L434.91,290.63 L435.01,291.94 L435.12,293.25 L435.22,294.54 L435.22,294.54 L435.33,295.82 L435.43,297.09 L435.54,298.35 L435.65,299.59 L435.75,300.82 L435.86,302.05 L435.96,303.25 L436.07,304.45 L436.17,305.64 L436.28,306.81 L436.28,306.81 L436.39,307.97 L436.49,309.13 L436.60,310.27 L436.70,311.40 L436.81,312.52 L436.91,313.62 L437.02,314.72 L437.12,315.81 L437.23,316.88 L437.34,317.95 L437.34,317.95 L437.44,319.00 L437.55,320.05 L437.65,321.08 L437.76,322.11 L437.86,323.12 L437.97,324.13 L438.08,325.12 L438.18,326.11 L438.29,327.08 L438.39,328.05 L438.39,328.05 L438.50,329.01 L438.60,329.96 L438.71,330.89 L438.81,331.82 L438.92,332.75 L439.03,333.66 L439.13,334.56 L439.24,335.45 L439.34,336.34 L439.45,337.22 L439.45,337.22 L439.55,338.09 L439.66,338.95 L439.77,339.80 L439.87,340.64 L439.98,341.48 L440.08,342.30 L440.19,343.12 L440.29,343.93 L440.40,344.74 L440.50,345.53 L440.50,345.53 L440.61,346.32 L440.72,347.10 L440.82,347.88 L440.93,348.64 L441.03,349.40 L441.14,350.15 L441.24,350.90 L441.35,351.64 L441.46,352.37 L441.56,353.09 L441.56,353.09 L441.67,353.81 L441.77,354.51 L441.88,355.22 L441.98,355.91 L442.09,356.60 L442.19,357.29 L442.30,357.96 L442.41,358.63 L442.51,359.30 L442.62,359.95 L442.62,359.95 L442.72,360.61 L442.83,361.25 L442.93,361.89 L443.04,362.52 L443.15,363.15 L443.25,363.77 L443.36,364.39 L443.46,365.00 L443.57,365.60 L443.67,366.20 L443.67,366.20 L443.78,366.80 L443.88,367.38 L443.99,367.97 L444.10,368.54 L444.20,369.11 L444.31,369.68 L444.41,370.24 L444.52,370.80 L444.62,371.35 L444.73,371.89 L444.73,371.89 L444.83,372.43 L444.94,372.97 L445.05,373.50 L445.15,374.03 L445.26,374.55 L445.36,375.06 L445.47,375.57 L445.57,376.08 L445.68,376.58 L445.79,377.08 L445.79,377.08 L445.89,377.57 L446.00,378.06 L446.10,378.55 L446.21,379.03 L446.31,379.50 L446.42,379.98 L446.52,380.44 L446.63,380.91 L446.74,381.36 L446.84,381.82 L446.84,381.82 L446.95,382.27 L447.05,382.72 L447.16,383.16 L447.26,383.60 L447.37,384.03 L447.48,384.46 L447.58,384.89 L447.69,385.31 L447.79,385.73 L447.90,386.15 L447.90,386.15 L448.00,386.56 L448.11,386.97 L448.21,387.38 L448.32,387.78 L448.43,388.18 L448.53,388.57 L448.64,388.96 L448.74,389.35 L448.85,389.73 L448.95,390.11 L448.95,390.11 L449.06,390.49 L449.17,390.87 L449.27,391.24 L449.38,391.60 L449.48,391.97 L449.59,392.33 L449.69,392.69 L449.80,393.04 L449.90,393.40 L450.01,393.75 L450.01,393.75 L450.12,394.09 L450.22,394.43 L450.33,394.77 L450.43,395.11 L450.54,395.45 L450.64,395.78 L450.75,396.11 L450.86,396.43 L450.96,396.76 L451.07,397.08 L451.07,397.08 L451.17,397.39 L451.28,397.71 L451.38,398.02 L451.49,398.33 L451.59,398.64 L451.70,398.94 L451.81,399.24 L451.91,399.54 L452.02,399.84 L452.12,400.14 L452.12,400.14 L453.18,402.95 L454.23,405.53 L455.29,407.91 L456.35,410.11 L457.40,412.13 L458.46,414.00 L459.52,415.72 L460.57,417.31 L461.63,418.78 L462.68,420.13 L463.74,421.38 L464.80,422.54 L465.85,423.61 L466.91,424.59 L467.97,425.50 L469.02,426.34 L470.08,427.11 L471.13,427.82 L472.19,428.47 L473.25,429.06 L474.30,429.61 L475.36,430.10 L476.41,430.55 L477.47,430.96 L478.53,431.33 L479.58,431.66 L480.64,431.95 L481.70,432.22 L482.75,432.44 L483.81,432.64 L484.86,432.81 L485.92,432.95 L486.98,433.07 L488.03,433.16 L489.09,433.23 L490.14,433.27 L491.20,433.30 L492.26,433.30 L493.31,433.28 L494.37,433.24 L495.43,433.19 L496.48,433.12 L497.54,433.03 L498.59,432.92 L499.65,432.80 L500.71,432.66 L501.76,432.51 L502.82,432.35 L503.87,432.17 L504.93,431.98 L505.99,431.77 L507.04,431.55 L508.10,431.33 L509.16,431.09 L510.21,430.83 L511.27,430.57 L512.32,430.30 L513.38,430.02 L514.44,429.72 L515.49,429.42 L516.55,429.11 L517.61,428.79 L518.66,428.46 L519.72,428.12 L520.77,427.78 L521.83,427.42 L522.89,427.06 L523.94,426.69 L525.00,426.31 L526.05,425.92 L527.11,425.53 L528.17,425.13 L529.22,424.72 L530.28,424.31 L531.34,423.88 L532.39,423.46 L533.45,423.02 L534.50,422.58 L535.56,422.14 L536.62,421.68 L537.67,421.23 L538.73,420.76 L539.78,420.29 L540.84,419.82 L541.90,419.34 L542.95,418.85 L544.01,418.36 L545.07,417.86 L546.12,417.36 L547.18,416.85 L548.23,416.34 L549.29,415.83 L550.35,415.30 L551.40,414.78 L552.46,414.25 L553.51,413.71 L554.57,413.18 L555.63,412.63 L556.68,412.09 L557.74,411.53 L558.80,410.98 L559.85,410.42 L560.91,409.86 L561.96,409.29 L563.02,408.72 L564.08,408.14 L565.13,407.57 L566.19,406.98 L567.25,406.40 L568.30,405.81 L569.36,405.22 L570.41,404.62 L571.47,404.02 L572.53,403.42 L573.58,402.82 L574.64,402.21 L575.69,401.60 L576.75,400.98 L577.81,400.37 L578.86,399.75 L579.92,399.12 L580.98,398.50 L582.03,397.87 L583.09,397.24 L584.14,396.60 L585.20,395.97 L586.26,395.33 L587.31,394.69 L588.37,394.04 L589.42,393.40 L590.48,392.75 L591.54,392.10 L592.59,391.45 L593.65,390.79 L594.71,390.13 L595.76,389.47 L596.82,388.81 L597.87,388.15 L598.93,387.48 L599.99,386.82 L601.04,386.15 L602.10,385.48 L603.16,384.80 L604.21,384.13 L605.27,383.45 L606.32,382.77 L607.38,382.09 L608.44,381.41 L609.49,380.73 L610.55,380.04 L611.60,379.36 L612.66,378.67 L613.72,377.98 L614.77,377.29 L615.83,376.60 L616.89,375.90 L617.94,375.21 L619.00,374.51 L620.05,373.82 L621.11,373.12 L622.17,372.42 L623.22,371.72 L624.28,371.02 L625.33,370.31 L626.39,369.61 L627.45,368.90 L628.50,368.20 L629.56,367.49 L630.62,366.78 L631.67,366.07 L632.73,365.37 L633.78,364.66 L634.84,363.94 L635.90,363.23 L636.95,362.52 L638.01,361.81 L639.06,361.09 L640.12,360.38 L641.18,359.66 L642.23,358.95 L643.29,358.23 L644.35,357.52 L645.40,356.80 L646.46,356.08 L647.51,355.36 L648.57,354.64 L649.63,353.93 L650.68,353.21 L651.74,352.49 L652.80,351.77 L653.85,351.05 L654.91,350.33 L655.96,349.61 L657.02,348.88 L658.08,348.16 L659.13,347.44 L660.19,346.72 L661.24,346.00 L662.30,345.28 L663.36,344.56 L664.41,343.83 L665.47,343.11 L666.53,342.39 L667.58,341.67 L668.64,340.95 L669.69,340.23 L670.75,339.50 L671.81,338.78 L672.86,338.06 L673.92,337.34 L674.97,336.62 L676.03,335.90 L677.09,335.18 L678.14,334.46 L679.20,333.74 L680.26,333.02 L681.31,332.30 L682.37,331.58 L683.42,330.86 L684.48,330.14 L685.54,329.42 L686.59,328.71 L687.65,327.99 L688.70,327.27 L689.76,326.55 L690.82,325.84 L691.87,325.12 L692.93,324.41 L693.99,323.69 L695.04,322.98 L696.10,322.27 L697.15,321.55 L698.21,320.84 L699.27,320.13 L700.32,319.42 L701.38,318.71 L702.44,318.00 L703.49,317.29 L704.55,316.58 L705.60,315.87 L706.66,315.16 L707.72,314.46 L708.77,313.75 L709.83,313.05 L710.88,312.34 L711.94,311.64 L713.00,310.93 L714.05,310.23 L715.11,309.53 L716.17,308.83 L717.22,308.13 L718.28,307.43 L719.33,306.73 L720.39,306.04 L721.45,305.34 L722.50,304.64 L723.56,303.95 L724.61,303.26 L725.67,302.56 L726.73,301.87 L727.78,301.18 L728.84,300.49 L729.90,299.80 L730.95,299.11 L732.01,298.43 L733.06,297.74 L734.12,297.06 L735.18,296.37 L736.23,295.69 L737.29,295.01 L738.35,294.33 L739.40,293.65 L740.46,292.97 L741.51,292.29 L742.57,291.61 L743.63,290.94 L744.68,290.26 L745.74,289.59 L746.79,288.92 L747.85,288.25 L748.91,287.58 L749.96,286.91 L751.02,286.24 L752.08,285.57 L753.13,284.91 L754.19,284.25 L755.24,283.58 L756.30,282.92" stroke="#d95f02" stroke-width="2.6" stroke-dasharray="15.27,10.18" stroke-dashoffset="1.05"/>
<path d="M80.35,284.86 L81.41,285.52 L82.46,286.18 L83.52,286.84 L84.57,287.50 L85.63,288.16 L86.69,288.83 L87.74,289.49 L88.80,290.16 L89.86,290.82 L90.91,291.49 L91.97,292.16 L93.02,292.83 L94.08,293.50 L95.14,294.18 L96.19,294.85 L97.25,295.52 L98.30,296.20 L99.36,296.88 L100.42,297.55 L101.47,298.23 L102.53,298.91 L103.59,299.59 L104.64,300.27 L105.70,300.96 L106.75,301.64 L107.81,302.32 L108.87,303.01 L109.92,303.70 L110.98,304.38 L112.04,305.07 L113.09,305.76 L114.15,306.45 L115.20,307.14 L116.26,307.83 L117.32,308.52 L118.37,309.21 L119.43,309.91 L120.48,310.60 L121.54,311.30 L122.60,311.99 L123.65,312.69 L124.71,313.39 L125.77,314.09 L126.82,314.79 L127.88,315.48 L128.93,316.18 L129.99,316.89 L131.05,317.59 L132.10,318.29 L133.16,318.99 L134.21,319.70 L135.27,320.40 L136.33,321.10 L137.38,321.81 L138.44,322.51 L139.50,323.22 L140.55,323.93 L141.61,324.63 L142.66,325.34 L143.72,326.05 L144.78,326.76 L145.83,327.47 L146.89,328.18 L147.94,328.89 L149.00,329.60 L150.06,330.31 L151.11,331.02 L152.17,331.73 L153.23,332.44 L154.28,333.15 L155.34,333.87 L156.39,334.58 L157.45,335.29 L158.51,336.00 L159.56,336.72 L160.62,337.43 L161.68,338.14 L162.73,338.86 L163.79,339.57 L164.84,340.28 L165.90,341.00 L166.96,341.71 L168.01,342.43 L169.07,343.14 L170.12,343.85 L171.18,344.57 L172.24,345.28 L173.29,346.00 L174.35,346.71 L175.41,347.42 L176.46,348.14 L177.52,348.85 L178.57,349.56 L179.63,350.27 L180.69,350.99 L181.74,351.70 L182.80,352.41 L183.85,353.12 L184.91,353.83 L185.97,354.55 L187.02,355.26 L188.08,355.97 L189.14,356.68 L190.19,357.39 L191.25,358.09 L192.30,358.80 L193.36,359.51 L194.42,360.22 L195.47,360.92 L196.53,361.63 L197.59,362.34 L198.64,363.04 L199.70,363.74 L200.75,364.45 L201.81,365.15 L202.87,365.85 L203.92,366.55 L204.98,367.25 L206.03,367.95 L207.09,368.65 L208.15,369.35 L209.20,370.04 L210.26,370.74 L211.32,371.43 L212.37,372.12 L213.43,372.82 L214.48,373.51 L215.54,374.20 L216.60,374.89 L217.65,375.57 L218.71,376.26 L219.76,376.94 L220.82,377.63 L221.88,378.31 L222.93,378.99 L223.99,379.67 L225.05,380.35 L226.10,381.02 L227.16,381.70 L228.21,382.37 L229.27,383.04 L230.33,383.71 L231.38,384.38 L232.44,385.04 L233.49,385.71 L234.55,386.37 L235.61,387.03 L236.66,387.69 L237.72,388.35 L238.78,389.00 L239.83,389.65 L240.89,390.31 L241.94,390.95 L243.00,391.60 L244.06,392.25 L245.11,392.89 L246.17,393.53 L247.23,394.17 L248.28,394.80 L249.34,395.43 L250.39,396.06 L251.45,396.69 L252.51,397.32 L253.56,397.94 L254.62,398.56 L255.67,399.18 L256.73,399.79 L257.79,400.40 L258.84,401.01 L259.90,401.62 L260.96,402.22 L262.01,402.82 L263.07,403.42 L264.12,404.01 L265.18,404.60 L266.24,405.19 L267.29,405.77 L268.35,406.36 L269.40,406.93 L270.46,407.51 L271.52,408.08 L272.57,408.65 L273.63,409.21 L274.69,409.77 L275.74,410.32 L276.80,410.88 L277.85,411.42 L278.91,411.97 L279.97,412.51 L281.02,413.04 L282.08,413.58 L283.14,414.10 L284.19,414.63 L285.25,415.15 L286.30,415.66 L287.36,416.17 L288.42,416.67 L289.47,417.17 L290.53,417.67 L291.58,418.16 L292.64,418.65 L293.70,419.13 L294.75,419.60 L295.81,420.07 L296.87,420.53 L297.92,420.99 L298.98,421.45 L300.03,421.89 L301.09,422.34 L302.15,422.77 L303.20,423.20 L304.26,423.62 L305.31,424.04 L306.37,424.45 L307.43,424.86 L308.48,425.25 L309.54,425.64 L310.60,426.03 L311.65,426.40 L312.71,426.77 L313.76,427.13 L314.82,427.48 L315.88,427.83 L316.93,428.16 L317.99,428.49 L319.04,428.81 L320.10,429.12 L321.16,429.43 L322.21,429.72 L323.27,430.00 L324.33,430.28 L325.38,430.54 L326.44,430.79 L327.49,431.03 L328.55,431.27 L329.61,431.49 L330.66,431.69 L331.72,431.89 L332.78,432.08 L333.83,432.25 L334.89,432.41 L335.94,432.55 L337.00,432.68 L338.06,432.80 L339.11,432.90 L340.17,432.98 L341.22,433.05 L342.28,433.10 L343.34,433.13 L344.39,433.15 L345.45,433.14 L346.51,433.12 L347.56,433.08 L348.62,433.01 L349.67,432.92 L350.73,432.81 L351.79,432.67 L352.84,432.50 L353.90,432.31 L354.95,432.09 L356.01,431.84 L357.07,431.56 L358.12,431.24 L359.18,430.89 L360.24,430.50 L361.29,430.08 L362.35,429.61 L363.40,429.09 L364.46,428.53 L365.52,427.92 L366.57,427.26 L367.63,426.54 L368.68,425.77 L369.74,424.92 L370.80,424.02 L371.85,423.03 L372.91,421.97 L373.97,420.83 L375.02,419.60 L376.08,418.27 L377.13,416.84 L378.19,415.30 L379.25,413.64 L380.30,411.86 L381.36,409.93 L382.42,407.86 L383.47,405.62 L384.53,403.21 L384.53,403.21 L384.63,402.96 L384.74,402.71 L384.84,402.45 L384.95,402.20 L385.06,401.94 L385.16,401.68 L385.27,401.41 L385.37,401.15 L385.48,400.88 L385.58,400.61 L385.58,400.61 L385.69,400.34 L385.79,400.07 L385.90,399.80 L386.01,399.52 L386.11,399.24 L386.22,398.96 L386.32,398.68 L386.43,398.39 L386.53,398.10 L386.64,397.81 L386.64,397.81 L386.75,397.52 L386.85,397.23 L386.96,396.93 L387.06,396.63 L387.17,396.33 L387.27,396.03 L387.38,395.72 L387.48,395.41 L387.59,395.10 L387.70,394.79 L387.80,394.47 L387.91,394.16 L388.01,393.84 L388.12,393.51 L388.22,393.19 L388.33,392.86 L388.44,392.53 L388.54,392.20 L388.65,391.86 L388.75,391.53 L388.75,391.53 L388.86,391.19 L388.96,390.84 L389.07,390.50 L389.17,390.15 L389.28,389.80 L389.39,389.45 L389.49,389.09 L389.60,388.73 L389.70,388.37 L389.81,388.01 L389.91,387.64 L390.02,387.27 L390.13,386.90 L390.23,386.52 L390.34,386.14 L390.44,385.76 L390.55,385.38 L390.65,384.99 L390.76,384.60 L390.86,384.21 L390.86,384.21 L390.97,383.81 L391.08,383.41 L391.18,383.01 L391.29,382.60 L391.39,382.19 L391.50,381.78 L391.60,381.37 L391.71,380.95 L391.82,380.53 L391.92,380.10 L392.03,379.68 L392.13,379.24 L392.24,378.81 L392.34,378.37 L392.45,377.93 L392.55,377.49 L392.66,377.04 L392.77,376.59 L392.87,376.13 L392.98,375.67 L392.98,375.67 L393.08,375.21 L393.19,374.75 L393.29,374.28 L393.40,373.81 L393.50,373.33 L393.61,372.85 L393.72,372.37 L393.82,371.88 L393.93,371.39 L394.03,370.89 L394.03,370.89 L394.14,370.40 L394.24,369.89 L394.35,369.39 L394.46,368.88 L394.56,368.37 L394.67,367.85 L394.77,367.33 L394.88,366.80 L394.98,366.27 L395.09,365.74 L395.09,365.74 L395.19,365.20 L395.30,364.66 L395.41,364.11 L395.51,363.56 L395.62,363.01 L395.72,362.45 L395.83,361.89 L395.93,361.32 L396.04,360.75 L396.15,360.18 L396.15,360.18 L396.25,359.60 L396.36,359.02 L396.46,358.43 L396.57,357.84 L396.67,357.24 L396.78,356.64 L396.88,356.03 L396.99,355.42 L397.10,354.81 L397.20,354.19 L397.20,354.19 L397.31,353.57 L397.41,352.94 L397.52,352.31 L397.62,351.67 L397.73,351.03 L397.84,350.38 L397.94,349.73 L398.05,349.07 L398.15,348.41 L398.26,347.75 L398.26,347.75 L398.36,347.08 L398.47,346.40 L398.57,345.72 L398.68,345.04 L398.79,344.35 L398.89,343.66 L399.00,342.96 L399.10,342.25 L399.21,341.54 L399.31,340.83 L399.31,340.83 L399.42,340.11 L399.53,339.39 L399.63,338.66 L399.74,337.93 L399.84,337.19 L399.95,336.44 L400.05,335.69 L400.16,334.94 L400.26,334.18 L400.37,333.42 L400.37,333.42 L400.48,332.65 L400.58,331.87 L400.69,331.09 L400.79,330.31 L400.90,329.52 L401.00,328.73 L401.11,327.93 L401.22,327.12 L401.32,326.31 L401.43,325.50 L401.43,325.50 L401.53,324.68 L401.64,323.85 L401.74,323.02 L401.85,322.19 L401.95,321.35 L402.06,320.50 L402.17,319.65 L402.27,318.79 L402.38,317.93 L402.48,317.07 L402.48,317.07 L402.59,316.20 L402.69,315.32 L402.80,314.44 L402.90,313.55 L403.01,312.66 L403.12,311.77 L403.22,310.87 L403.33,309.96 L403.43,309.05 L403.54,308.14 L403.54,308.14 L403.64,307.22 L403.75,306.29 L403.86,305.36 L403.96,304.43 L404.07,303.49 L404.17,302.55 L404.28,301.60 L404.38,300.65 L404.49,299.69 L404.59,298.73 L404.59,298.73 L404.70,297.76 L404.81,296.79 L404.91,295.82 L405.02,294.84 L405.12,293.86 L405.23,292.87 L405.33,291.88 L405.44,290.89 L405.55,289.89 L405.65,288.89 L405.65,288.89 L405.76,287.89 L405.86,286.88 L405.97,285.87 L406.07,284.85 L406.18,283.83 L406.28,282.81 L406.39,281.79 L406.50,280.76 L406.60,279.73 L406.71,278.70 L406.71,278.70 L406.81,277.66 L406.92,276.63 L407.02,275.59 L407.13,274.54 L407.24,273.50 L407.34,272.45 L407.45,271.41 L407.55,270.36 L407.66,269.30 L407.76,268.25 L407.76,268.25 L407.87,267.20 L407.97,266.14 L408.08,265.09 L408.19,264.03 L408.29,262.98 L408.40,261.92 L408.50,260.86 L408.61,259.80 L408.71,258.75 L408.82,257.69 L408.82,257.69 L408.93,256.63 L409.03,255.58 L409.14,254.52 L409.24,253.47 L409.35,252.42 L409.45,251.37 L409.56,250.32 L409.66,249.28 L409.77,248.23 L409.88,247.19 L409.88,247.19 L409.98,246.15 L410.09,245.12 L410.19,244.08 L410.30,243.05 L410.40,242.03 L410.51,241.01 L410.61,239.99 L410.72,238.98 L410.83,237.97 L410.93,236.97 L410.93,236.97 L411.04,235.97 L411.14,234.97 L411.25,233.99 L411.35,233.01 L411.46,232.03 L411.57,231.07 L411.67,230.10 L411.78,229.15 L411.88,228.20 L411.99,227.27 L411.99,227.27 L412.09,226.34 L412.20,225.41 L412.30,224.50 L412.41,223.60 L412.52,222.70 L412.62,221.81 L412.73,220.94 L412.83,220.07 L412.94,219.21 L413.04,218.37 L413.04,218.37 L413.15,217.54 L413.26,216.71 L413.36,215.90 L413.47,215.10 L413.57,214.31 L413.68,213.54 L413.78,212.77 L413.89,212.02 L413.99,211.29 L414.10,210.56 L414.10,210.56 L414.21,209.85 L414.31,209.16 L414.42,208.48 L414.52,207.81 L414.63,207.16 L414.73,206.52 L414.84,205.90 L414.95,205.30 L415.05,204.71 L415.16,204.13 L415.16,204.13 L415.26,203.57 L415.37,203.03 L415.47,202.51 L415.58,202.00 L415.68,201.51 L415.79,201.04 L415.90,200.59 L416.00,200.15 L416.11,199.73 L416.21,199.33 L416.32,198.95 L416.42,198.58 L416.53,198.24 L416.64,197.91 L416.74,197.61 L416.85,197.32 L416.95,197.05 L417.06,196.80 L417.16,196.57 L417.27,196.36 L417.27,196.36 L417.37,196.17 L417.48,196.00 L417.59,195.85 L417.69,195.72 L417.80,195.61 L417.90,195.52 L418.01,195.45 L418.11,195.40 L418.22,195.37 L418.32,195.36 L418.43,195.37 L418.54,195.40 L418.64,195.45 L418.75,195.52 L418.85,195.61 L418.96,195.72 L419.06,195.85 L419.17,196.00 L419.28,196.17 L419.38,196.36 L419.38,196.36 L419.49,196.57 L419.59,196.80 L419.70,197.05 L419.80,197.32 L419.91,197.61 L420.01,197.91 L420.12,198.24 L420.23,198.58 L420.33,198.95 L420.44,199.33 L420.54,199.73 L420.65,200.15 L420.75,200.59 L420.86,201.04 L420.97,201.51 L421.07,202.00 L421.18,202.51 L421.28,203.03 L421.39,203.57 L421.49,204.13 L421.49,204.13 L421.60,204.71 L421.70,205.30 L421.81,205.90 L421.92,206.52 L422.02,207.16 L422.13,207.81 L422.23,208.48 L422.34,209.16 L422.44,209.85 L422.55,210.56 L422.55,210.56 L422.66,211.29 L422.76,212.02 L422.87,212.77 L422.97,213.54 L423.08,214.31 L423.18,215.10 L423.29,215.90 L423.39,216.71 L423.50,217.54 L423.61,218.37 L423.61,218.37 L423.71,219.21 L423.82,220.07 L423.92,220.94 L424.03,221.81 L424.13,222.70 L424.24,223.60 L424.35,224.50 L424.45,225.41 L424.56,226.34 L424.66,227.27 L424.66,227.27 L424.77,228.20 L424.87,229.15 L424.98,230.10 L425.08,231.07 L425.19,232.03 L425.30,233.01 L425.40,233.99 L425.51,234.97 L425.61,235.97 L425.72,236.97 L425.72,236.97 L425.82,237.97 L425.93,238.98 L426.04,239.99 L426.14,241.01 L426.25,242.03 L426.35,243.05 L426.46,244.08 L426.56,245.12 L426.67,246.15 L426.77,247.19 L426.77,247.19 L426.88,248.23 L426.99,249.28 L427.09,250.32 L427.20,251.37 L427.30,252.42 L427.41,253.47 L427.51,254.52 L427.62,255.58 L427.72,256.63 L427.83,257.69 L427.83,257.69 L427.94,258.75 L428.04,259.80 L428.15,260.86 L428.25,261.92 L428.36,262.98 L428.46,264.03 L428.57,265.09 L428.68,266.14 L428.78,267.20 L428.89,268.25 L428.89,268.25 L428.99,269.30 L429.10,270.36 L429.20,271.41 L429.31,272.45 L429.41,273.50 L429.52,274.54 L429.63,275.59 L429.73,276.63 L429.84,277.66 L429.94,278.70 L429.94,278.70 L430.05,279.73 L430.15,280.76 L430.26,281.79 L430.37,282.81 L430.47,283.83 L430.58,284.85 L430.68,285.87 L430.79,286.88 L430.89,287.89 L431.00,288.89 L431.00,288.89 L431.10,289.89 L431.21,290.89 L431.32,291.88 L431.42,292.87 L431.53,293.86 L431.63,294.84 L431.74,295.82 L431.84,296.79 L431.95,297.76 L432.06,298.73 L432.06,298.73 L432.16,299.69 L432.27,300.65 L432.37,301.60 L432.48,302.55 L432.58,303.49 L432.69,304.43 L432.79,305.36 L432.90,306.29 L433.01,307.22 L433.11,308.14 L433.11,308.14 L433.22,309.05 L433.32,309.96 L433.43,310.87 L433.53,311.77 L433.64,312.66 L433.75,313.55 L433.85,314.44 L433.96,315.32 L434.06,316.20 L434.17,317.07 L434.17,317.07 L434.27,317.93 L434.38,318.79 L434.48,319.65 L434.59,320.50 L434.70,321.35 L434.80,322.19 L434.91,323.02 L435.01,323.85 L435.12,324.68 L435.22,325.50 L435.22,325.50 L435.33,326.31 L435.43,327.12 L435.54,327.93 L435.65,328.73 L435.75,329.52 L435.86,330.31 L435.96,331.09 L436.07,331.87 L436.17,332.65 L436.28,333.42 L436.28,333.42 L436.39,334.18 L436.49,334.94 L436.60,335.69 L436.70,336.44 L436.81,337.19 L436.91,337.93 L437.02,338.66 L437.12,339.39 L437.23,340.11 L437.34,340.83 L437.34,340.83 L437.44,341.54 L437.55,342.25 L437.65,342.96 L437.76,343.66 L437.86,344.35 L437.97,345.04 L438.08,345.72 L438.18,346.40 L438.29,347.08 L438.39,347.75 L438.39,347.75 L438.50,348.41 L438.60,349.07 L438.71,349.73 L438.81,350.38 L438.92,351.03 L439.03,351.67 L439.13,352.31 L439.24,352.94 L439.34,353.57 L439.45,354.19 L439.45,354.19 L439.55,354.81 L439.66,355.42 L439.77,356.03 L439.87,356.64 L439.98,357.24 L440.08,357.84 L440.19,358.43 L440.29,359.02 L440.40,359.60 L440.50,360.18 L440.50,360.18 L440.61,360.75 L440.72,361.32 L440.82,361.89 L440.93,362.45 L441.03,363.01 L441.14,363.56 L441.24,364.11 L441.35,364.66 L441.46,365.20 L441.56,365.74 L441.56,365.74 L441.67,366.27 L441.77,366.80 L441.88,367.33 L441.98,367.85 L442.09,368.37 L442.19,368.88 L442.30,369.39 L442.41,369.89 L442.51,370.40 L442.62,370.89 L442.62,370.89 L442.72,371.39 L442.83,371.88 L442.93,372.37 L443.04,372.85 L443.15,373.33 L443.25,373.81 L443.36,374.28 L443.46,374.75 L443.57,375.21 L443.67,375.67 L443.67,375.67 L443.78,376.13 L443.88,376.59 L443.99,377.04 L444.10,377.49 L444.20,377.93 L444.31,378.37 L444.41,378.81 L444.52,379.24 L444.62,379.68 L444.73,380.10 L444.73,380.10 L444.83,380.53 L444.94,380.95 L445.05,381.37 L445.15,381.78 L445.26,382.19 L445.36,382.60 L445.47,383.01 L445.57,383.41 L445.68,383.81 L445.79,384.21 L445.79,384.21 L445.89,384.60 L446.00,384.99 L446.10,385.38 L446.21,385.76 L446.31,386.14 L446.42,386.52 L446.52,386.90 L446.63,387.27 L446.74,387.64 L446.84,388.01 L446.84,388.01 L446.95,388.37 L447.05,388.73 L447.16,389.09 L447.26,389.45 L447.37,389.80 L447.48,390.15 L447.58,390.50 L447.69,390.84 L447.79,391.19 L447.90,391.53 L447.90,391.53 L448.00,391.86 L448.11,392.20 L448.21,392.53 L448.32,392.86 L448.43,393.19 L448.53,393.51 L448.64,393.84 L448.74,394.16 L448.85,394.47 L448.95,394.79 L448.95,394.79 L449.06,395.10 L449.17,395.41 L449.27,395.72 L449.38,396.03 L449.48,396.33 L449.59,396.63 L449.69,396.93 L449.80,397.23 L449.90,397.52 L450.01,397.81 L450.01,397.81 L450.12,398.10 L450.22,398.39 L450.33,398.68 L450.43,398.96 L450.54,399.24 L450.64,399.52 L450.75,399.80 L450.86,400.07 L450.96,400.34 L451.07,400.61 L451.07,400.61 L451.17,400.88 L451.28,401.15 L451.38,401.41 L451.49,401.68 L451.59,401.94 L451.70,402.20 L451.81,402.45 L451.91,402.71 L452.02,402.96 L452.12,403.21 L452.12,403.21 L453.18,405.62 L454.23,407.86 L455.29,409.93 L456.35,411.86 L457.40,413.64 L458.46,415.30 L459.52,416.84 L460.57,418.27 L461.63,419.60 L462.68,420.83 L463.74,421.97 L464.80,423.03 L465.85,424.02 L466.91,424.92 L467.97,425.77 L469.02,426.54 L470.08,427.26 L471.13,427.92 L472.19,428.53 L473.25,429.09 L474.30,429.61 L475.36,430.08 L476.41,430.50 L477.47,430.89 L478.53,431.24 L479.58,431.56 L480.64,431.84 L481.70,432.09 L482.75,432.31 L483.81,432.50 L484.86,432.67 L485.92,432.81 L486.98,432.92 L488.03,433.01 L489.09,433.08 L490.14,433.12 L491.20,433.14 L492.26,433.15 L493.31,433.13 L494.37,433.10 L495.43,433.05 L496.48,432.98 L497.54,432.90 L498.59,432.80 L499.65,432.68 L500.71,432.55 L501.76,432.41 L502.82,432.25 L503.87,432.08 L504.93,431.89 L505.99,431.69 L507.04,431.49 L508.10,431.27 L509.16,431.03 L510.21,430.79 L511.27,430.54 L512.32,430.28 L513.38,430.00 L514.44,429.72 L515.49,429.43 L516.55,429.12 L517.61,428.81 L518.66,428.49 L519.72,428.16 L520.77,427.83 L521.83,427.48 L522.89,427.13 L523.94,426.77 L525.00,426.40 L526.05,426.03 L527.11,425.64 L528.17,425.25 L529.22,424.86 L530.28,424.45 L531.34,424.04 L532.39,423.62 L533.45,423.20 L534.50,422.77 L535.56,422.34 L536.62,421.89 L537.67,421.45 L538.73,420.99 L539.78,420.53 L540.84,420.07 L541.90,419.60 L542.95,419.13 L544.01,418.65 L545.07,418.16 L546.12,417.67 L547.18,417.17 L548.23,416.67 L549.29,416.17 L550.35,415.66 L551.40,415.15 L552.46,414.63 L553.51,414.10 L554.57,413.58 L555.63,413.04 L556.68,412.51 L557.74,411.97 L558.80,411.42 L559.85,410.88 L560.91,410.32 L561.96,409.77 L563.02,409.21 L564.08,408.65 L565.13,408.08 L566.19,407.51 L567.25,406.93 L568.30,406.36 L569.36,405.77 L570.41,405.19 L571.47,404.60 L572.53,404.01 L573.58,403.42 L574.64,402.82 L575.69,402.22 L576.75,401.62 L577.81,401.01 L578.86,400.40 L579.92,399.79 L580.98,399.18 L582.03,398.56 L583.09,397.94 L584.14,397.32 L585.20,396.69 L586.26,396.06 L587.31,395.43 L588.37,394.80 L589.42,394.17 L590.48,393.53 L591.54,392.89 L592.59,392.25 L593.65,391.60 L594.71,390.95 L595.76,390.31 L596.82,389.65 L597.87,389.00 L598.93,388.35 L599.99,387.69 L601.04,387.03 L602.10,386.37 L603.16,385.71 L604.21,385.04 L605.27,384.38 L606.32,383.71 L607.38,383.04 L608.44,382.37 L609.49,381.70 L610.55,381.02 L611.60,380.35 L612.66,379.67 L613.72,378.99 L614.77,378.31 L615.83,377.63 L616.89,376.94 L617.94,376.26 L619.00,375.57 L620.05,374.89 L621.11,374.20 L622.17,373.51 L623.22,372.82 L624.28,372.12 L625.33,371.43 L626.39,370.74 L627.45,370.04 L628.50,369.35 L629.56,368.65 L630.62,367.95 L631.67,367.25 L632.73,366.55 L633.78,365.85 L634.84,365.15 L635.90,364.45 L636.95,363.74 L638.01,363.04 L639.06,362.34 L640.12,361.63 L641.18,360.92 L642.23,360.22 L643.29,359.51 L644.35,358.80 L645.40,358.09 L646.46,357.39 L647.51,356.68 L648.57,355.97 L649.63,355.26 L650.68,354.55 L651.74,353.83 L652.80,353.12 L653.85,352.41 L654.91,351.70 L655.96,350.99 L657.02,350.27 L658.08,349.56 L659.13,348.85 L660.19,348.14 L661.24,347.42 L662.30,346.71 L663.36,346.00 L664.41,345.28 L665.47,344.57 L666.53,343.85 L667.58,343.14 L668.64,342.43 L669.69,341.71 L670.75,341.00 L671.81,340.28 L672.86,339.57 L673.92,338.86 L674.97,338.14 L676.03,337.43 L677.09,336.72 L678.14,336.00 L679.20,335.29 L680.26,334.58 L681.31,333.87 L682.37,333.15 L683.42,332.44 L684.48,331.73 L685.54,331.02 L686.59,330.31 L687.65,329.60 L688.70,328.89 L689.76,328.18 L690.82,327.47 L691.87,326.76 L692.93,326.05 L693.99,325.34 L695.04,324.63 L696.10,323.93 L697.15,323.22 L698.21,322.51 L699.27,321.81 L700.32,321.10 L701.38,320.40 L702.44,319.70 L703.49,318.99 L704.55,318.29 L705.60,317.59 L706.66,316.89 L707.72,316.18 L708.77,315.48 L709.83,314.79 L710.88,314.09 L711.94,313.39 L713.00,312.69 L714.05,311.99 L715.11,311.30 L716.17,310.60 L717.22,309.91 L718.28,309.21 L719.33,308.52 L720.39,307.83 L721.45,307.14 L722.50,306.45 L723.56,305.76 L724.61,305.07 L725.67,304.38 L726.73,303.70 L727.78,303.01 L728.84,302.32 L729.90,301.64 L730.95,300.96 L732.01,300.27 L733.06,299.59 L734.12,298.91 L735.18,298.23 L736.23,297.55 L737.29,296.88 L738.35,296.20 L739.40,295.52 L740.46,294.85 L741.51,294.18 L742.57,293.50 L743.63,292.83 L744.68,292.16 L745.74,291.49 L746.79,290.82 L747.85,290.16 L748.91,289.49 L749.96,288.83 L751.02,288.16 L752.08,287.50 L753.13,286.84 L754.19,286.18 L755.24,285.52 L756.30,284.86" stroke="#7570b3" stroke-width="2.6" stroke-dasharray="5.7,10.18" stroke-dashoffset="1.0"/>
<path d="M80.35,294.44 L81.41,295.63 L82.46,296.82 L83.52,298.00 L84.57,299.17 L85.63,300.34 L86.69,301.50 L87.74,302.65 L88.80,303.80 L89.86,304.95 L90.91,306.09 L91.97,307.22 L93.02,308.35 L94.08,309.47 L95.14,310.58 L96.19,311.69 L97.25,312.79 L98.30,313.89 L99.36,314.98 L100.42,316.07 L101.47,317.15 L102.53,318.22 L103.59,319.29 L104.64,320.35 L105.70,321.41 L106.75,322.46 L107.81,323.50 L108.87,324.54 L109.92,325.58 L110.98,326.60 L112.04,327.62 L113.09,328.64 L114.15,329.65 L115.20,330.65 L116.26,331.65 L117.32,332.64 L118.37,333.62 L119.43,334.60 L120.48,335.57 L121.54,336.54 L122.60,337.50 L123.65,338.46 L124.71,339.41 L125.77,340.35 L126.82,341.29 L127.88,342.22 L128.93,343.15 L129.99,344.07 L131.05,344.98 L132.10,345.89 L133.16,346.79 L134.21,347.69 L135.27,348.58 L136.33,349.46 L137.38,350.34 L138.44,351.22 L139.50,352.08 L140.55,352.95 L141.61,353.80 L142.66,354.65 L143.72,355.50 L144.78,356.34 L145.83,357.17 L146.89,358.00 L147.94,358.82 L149.00,359.64 L150.06,360.45 L151.11,361.25 L152.17,362.05 L153.23,362.84 L154.28,363.63 L155.34,364.42 L156.39,365.19 L157.45,365.97 L158.51,366.73 L159.56,367.49 L160.62,368.25 L161.68,369.00 L162.73,369.74 L163.79,370.48 L164.84,371.22 L165.90,371.95 L166.96,372.67 L168.01,373.39 L169.07,374.10 L170.12,374.81 L171.18,375.51 L172.24,376.21 L173.29,376.90 L174.35,377.59 L175.41,378.27 L176.46,378.94 L177.52,379.62 L178.57,380.28 L179.63,380.94 L180.69,381.60 L181.74,382.25 L182.80,382.90 L183.85,383.54 L184.91,384.18 L185.97,384.81 L187.02,385.43 L188.08,386.05 L189.14,386.67 L190.19,387.28 L191.25,387.89 L192.30,388.49 L193.36,389.09 L194.42,389.68 L195.47,390.27 L196.53,390.86 L197.59,391.43 L198.64,392.01 L199.70,392.58 L200.75,393.14 L201.81,393.70 L202.87,394.26 L203.92,394.81 L204.98,395.36 L206.03,395.90 L207.09,396.44 L208.15,396.97 L209.20,397.50 L210.26,398.02 L211.32,398.54 L212.37,399.06 L213.43,399.57 L214.48,400.07 L215.54,400.58 L216.60,401.08 L217.65,401.57 L218.71,402.06 L219.76,402.54 L220.82,403.03 L221.88,403.50 L222.93,403.98 L223.99,404.45 L225.05,404.91 L226.10,405.37 L227.16,405.83 L228.21,406.28 L229.27,406.73 L230.33,407.17 L231.38,407.61 L232.44,408.05 L233.49,408.48 L234.55,408.91 L235.61,409.33 L236.66,409.75 L237.72,410.17 L238.78,410.58 L239.83,410.99 L240.89,411.40 L241.94,411.80 L243.00,412.20 L244.06,412.59 L245.11,412.98 L246.17,413.37 L247.23,413.75 L248.28,414.13 L249.34,414.50 L250.39,414.88 L251.45,415.24 L252.51,415.61 L253.56,415.97 L254.62,416.32 L255.67,416.68 L256.73,417.03 L257.79,417.37 L258.84,417.71 L259.90,418.05 L260.96,418.39 L262.01,418.72 L263.07,419.05 L264.12,419.37 L265.18,419.69 L266.24,420.01 L267.29,420.32 L268.35,420.64 L269.40,420.94 L270.46,421.25 L271.52,421.55 L272.57,421.84 L273.63,422.14 L274.69,422.43 L275.74,422.71 L276.80,423.00 L277.85,423.27 L278.91,423.55 L279.97,423.82 L281.02,424.09 L282.08,424.36 L283.14,424.62 L284.19,424.88 L285.25,425.13 L286.30,425.39 L287.36,425.64 L288.42,425.88 L289.47,426.12 L290.53,426.36 L291.58,426.60 L292.64,426.83 L293.70,427.06 L294.75,427.28 L295.81,427.50 L296.87,427.72 L297.92,427.93 L298.98,428.14 L300.03,428.35 L301.09,428.55 L302.15,428.75 L303.20,428.95 L304.26,429.14 L305.31,429.33 L306.37,429.52 L307.43,429.70 L308.48,429.88 L309.54,430.05 L310.60,430.22 L311.65,430.39 L312.71,430.55 L313.76,430.71 L314.82,430.87 L315.88,431.02 L316.93,431.17 L317.99,431.31 L319.04,431.45 L320.10,431.58 L321.16,431.71 L322.21,431.84 L323.27,431.96 L324.33,432.08 L325.38,432.19 L326.44,432.30 L327.49,432.40 L328.55,432.50 L329.61,432.60 L330.66,432.68 L331.72,432.77 L332.78,432.85 L333.83,432.92 L334.89,432.98 L335.94,433.04 L337.00,433.10 L338.06,433.15 L339.11,433.19 L340.17,433.23 L341.22,433.26 L342.28,433.28 L343.34,433.29 L344.39,433.30 L345.45,433.30 L346.51,433.29 L347.56,433.27 L348.62,433.25 L349.67,433.21 L350.73,433.16 L351.79,433.11 L352.84,433.04 L353.90,432.96 L354.95,432.87 L356.01,432.77 L357.07,432.66 L358.12,432.53 L359.18,432.38 L360.24,432.22 L361.29,432.05 L362.35,431.85 L363.40,431.64 L364.46,431.40 L365.52,431.15 L366.57,430.87 L367.63,430.57 L368.68,430.24 L369.74,429.88 L370.80,429.49 L371.85,429.06 L372.91,428.60 L373.97,428.10 L375.02,427.56 L376.08,426.97 L377.13,426.33 L378.19,425.63 L379.25,424.86 L380.30,424.04 L381.36,423.13 L382.42,422.14 L383.47,421.06 L384.53,419.87 L384.53,419.87 L384.63,419.75 L384.74,419.62 L384.84,419.50 L384.95,419.37 L385.06,419.24 L385.16,419.11 L385.27,418.97 L385.37,418.84 L385.48,418.71 L385.58,418.57 L385.58,418.57 L385.69,418.43 L385.79,418.30 L385.90,418.16 L386.01,418.02 L386.11,417.87 L386.22,417.73 L386.32,417.58 L386.43,417.44 L386.53,417.29 L386.64,417.14 L386.64,417.14 L386.75,416.99 L386.85,416.84 L386.96,416.68 L387.06,416.53 L387.17,416.37 L387.27,416.21 L387.38,416.05 L387.48,415.89 L387.59,415.73 L387.70,415.56 L387.80,415.40 L387.91,415.23 L388.01,415.06 L388.12,414.89 L388.22,414.71 L388.33,414.54 L388.44,414.36 L388.54,414.18 L388.65,414.00 L388.75,413.82 L388.75,413.82 L388.86,413.64 L388.96,413.45 L389.07,413.26 L389.17,413.07 L389.28,412.88 L389.39,412.69 L389.49,412.49 L389.60,412.29 L389.70,412.09 L389.81,411.89 L389.91,411.69 L390.02,411.48 L390.13,411.27 L390.23,411.06 L390.34,410.85 L390.44,410.64 L390.55,410.42 L390.65,410.20 L390.76,409.98 L390.86,409.75 L390.86,409.75 L390.97,409.53 L391.08,409.30 L391.18,409.07 L391.29,408.83 L391.39,408.59 L391.50,408.36 L391.60,408.11 L391.71,407.87 L391.82,407.62 L391.92,407.37 L392.03,407.12 L392.13,406.86 L392.24,406.61 L392.34,406.34 L392.45,406.08 L392.55,405.81 L392.66,405.54 L392.77,405.27 L392.87,404.99 L392.98,404.71 L392.98,404.71 L393.08,404.43 L393.19,404.15 L393.29,403.86 L393.40,403.57 L393.50,403.27 L393.61,402.97 L393.72,402.67 L393.82,402.36 L393.93,402.05 L394.03,401.74 L394.03,401.74 L394.14,401.42 L394.24,401.10 L394.35,400.78 L394.46,400.45 L394.56,400.12 L394.67,399.78 L394.77,399.44 L394.88,399.10 L394.98,398.75 L395.09,398.40 L395.09,398.40 L395.19,398.04 L395.30,397.68 L395.41,397.32 L395.51,396.95 L395.62,396.57 L395.72,396.19 L395.83,395.81 L395.93,395.42 L396.04,395.03 L396.15,394.63 L396.15,394.63 L396.25,394.23 L396.36,393.82 L396.46,393.41 L396.57,392.99 L396.67,392.57 L396.78,392.14 L396.88,391.71 L396.99,391.27 L397.10,390.82 L397.20,390.37 L397.20,390.37 L397.31,389.92 L397.41,389.46 L397.52,388.99 L397.62,388.51 L397.73,388.03 L397.84,387.55 L397.94,387.05 L398.05,386.55 L398.15,386.05 L398.26,385.54 L398.26,385.54 L398.36,385.02 L398.47,384.49 L398.57,383.96 L398.68,383.42 L398.79,382.87 L398.89,382.32 L399.00,381.75 L399.10,381.18 L399.21,380.61 L399.31,380.02 L399.31,380.02 L399.42,379.43 L399.53,378.83 L399.63,378.22 L399.74,377.60 L399.84,376.97 L399.95,376.34 L400.05,375.69 L400.16,375.04 L400.26,374.38 L400.37,373.71 L400.37,373.71 L400.48,373.03 L400.58,372.34 L400.69,371.64 L400.79,370.93 L400.90,370.21 L401.00,369.48 L401.11,368.74 L401.22,367.98 L401.32,367.22 L401.43,366.45 L401.43,366.45 L401.53,365.66 L401.64,364.87 L401.74,364.06 L401.85,363.24 L401.95,362.41 L402.06,361.57 L402.17,360.71 L402.27,359.84 L402.38,358.96 L402.48,358.07 L402.48,358.07 L402.59,357.16 L402.69,356.24 L402.80,355.30 L402.90,354.35 L403.01,353.39 L403.12,352.41 L403.22,351.42 L403.33,350.41 L403.43,349.39 L403.54,348.35 L403.54,348.35 L403.64,347.30 L403.75,346.23 L403.86,345.14 L403.96,344.03 L404.07,342.91 L404.17,341.77 L404.28,340.62 L404.38,339.44 L404.49,338.25 L404.59,337.04 L404.59,337.04 L404.70,335.81 L404.81,334.56 L404.91,333.29 L405.02,332.01 L405.12,330.70 L405.23,329.37 L405.33,328.02 L405.44,326.64 L405.55,325.25 L405.65,323.84 L405.65,323.84 L405.76,322.40 L405.86,320.94 L405.97,319.45 L406.07,317.94 L406.18,316.41 L406.28,314.86 L406.39,313.27 L406.50,311.67 L406.60,310.03 L406.71,308.38 L406.71,308.38 L406.81,306.69 L406.92,304.98 L407.02,303.24 L407.13,301.47 L407.24,299.68 L407.34,297.85 L407.45,296.00 L407.55,294.12 L407.66,292.21 L407.76,290.26 L407.76,290.26 L407.87,288.29 L407.97,286.29 L408.08,284.25 L408.19,282.18 L408.29,280.08 L408.40,277.95 L408.50,275.78 L408.61,273.58 L408.71,271.34 L408.82,269.07 L408.82,269.07 L408.93,266.77 L409.03,264.43 L409.14,262.05 L409.24,259.64 L409.35,257.19 L409.45,254.71 L409.56,252.19 L409.66,249.63 L409.77,247.03 L409.88,244.40 L409.88,244.40 L409.98,241.73 L410.09,239.02 L410.19,236.27 L410.30,233.48 L410.40,230.66 L410.51,227.79 L410.61,224.89 L410.72,221.95 L410.83,218.97 L410.93,215.96 L410.93,215.96 L411.04,212.90 L411.14,209.81 L411.25,206.68 L411.35,203.52 L411.46,200.31 L411.57,197.07 L411.67,193.80 L411.78,190.49 L411.88,187.15 L411.99,183.77 L411.99,183.77 L412.09,180.36 L412.20,176.92 L412.30,173.45 L412.41,169.95 L412.52,166.42 L412.62,162.87 L412.73,159.29 L412.83,155.68 L412.94,152.06 L413.04,148.42 L413.04,148.42 L413.15,144.76 L413.26,141.08 L413.36,137.39 L413.47,133.69 L413.57,129.98 L413.68,126.26 L413.78,122.55 L413.89,118.83 L413.99,115.11 L414.10,111.41 L414.10,111.41 L414.21,107.71 L414.31,104.02 L414.42,100.36 L414.52,96.71 L414.63,93.09 L414.73,89.49 L414.84,85.93 L414.95,82.41 L415.05,78.92 L415.16,75.49 L415.16,75.49 L415.26,72.10 L415.37,68.77 L415.47,65.49 L415.58,62.29 L415.68,59.15 L415.79,56.08 L415.90,53.10 L416.00,50.19 L416.11,47.38 L416.21,44.66 L416.32,42.03 L416.42,39.51 L416.53,37.10 L416.64,34.80 L416.74,32.61 L416.85,30.54 L416.95,28.60 L417.06,26.78 L417.16,25.09 L417.27,23.54 L417.27,23.54 L417.37,22.13 L417.48,20.86 L417.59,19.73 L417.69,18.75 L417.80,17.91 L417.90,17.23 L418.01,16.69 L418.11,16.31 L418.22,16.08 L418.32,16.00 L418.43,16.08 L418.54,16.31 L418.64,16.69 L418.75,17.23 L418.85,17.91 L418.96,18.75 L419.06,19.73 L419.17,20.86 L419.28,22.13 L419.38,23.54 L419.38,23.54 L419.49,25.09 L419.59,26.78 L419.70,28.60 L419.80,30.54 L419.91,32.61 L420.01,34.80 L420.12,37.10 L420.23,39.51 L420.33,42.03 L420.44,44.66 L420.54,47.38 L420.65,50.19 L420.75,53.10 L420.86,56.08 L420.97,59.15 L421.07,62.29 L421.18,65.49 L421.28,68.77 L421.39,72.10 L421.49,75.49 L421.49,75.49 L421.60,78.92 L421.70,82.41 L421.81,85.93 L421.92,89.49 L422.02,93.09 L422.13,96.71 L422.23,100.36 L422.34,104.02 L422.44,107.71 L422.55,111.41 L422.55,111.41 L422.66,115.11 L422.76,118.83 L422.87,122.55 L422.97,126.26 L423.08,129.98 L423.18,133.69 L423.29,137.39 L423.39,141.08 L423.50,144.76 L423.61,148.42 L423.61,148.42 L423.71,152.06 L423.82,155.68 L423.92,159.29 L424.03,162.87 L424.13,166.42 L424.24,169.95 L424.35,173.45 L424.45,176.92 L424.56,180.36 L424.66,183.77 L424.66,183.77 L424.77,187.15 L424.87,190.49 L424.98,193.80 L425.08,197.07 L425.19,200.31 L425.30,203.52 L425.40,206.68 L425.51,209.81 L425.61,212.90 L425.72,215.96 L425.72,215.96 L425.82,218.97 L425.93,221.95 L426.04,224.89 L426.14,227.79 L426.25,230.66 L426.35,233.48 L426.46,236.27 L426.56,239.02 L426.67,241.73 L426.77,244.40 L426.77,244.40 L426.88,247.03 L426.99,249.63 L427.09,252.19 L427.20,254.71 L427.30,257.19 L427.41,259.64 L427.51,262.05 L427.62,264.43 L427.72,266.77 L427.83,269.07 L427.83,269.07 L427.94,271.34 L428.04,273.58 L428.15,275.78 L428.25,277.95 L428.36,280.08 L428.46,282.18 L428.57,284.25 L428.68,286.29 L428.78,288.29 L428.89,290.26 L428.89,290.26 L428.99,292.21 L429.10,294.12 L429.20,296.00 L429.31,297.85 L429.41,299.68 L429.52,301.47 L429.63,303.24 L429.73,304.98 L429.84,306.69 L429.94,308.38 L429.94,308.38 L430.05,310.03 L430.15,311.67 L430.26,313.27 L430.37,314.86 L430.47,316.41 L430.58,317.94 L430.68,319.45 L430.79,320.94 L430.89,322.40 L431.00,323.84 L431.00,323.84 L431.10,325.25 L431.21,326.64 L431.32,328.02 L431.42,329.37 L431.53,330.70 L431.63,332.01 L431.74,333.29 L431.84,334.56 L431.95,335.81 L432.06,337.04 L432.06,337.04 L432.16,338.25 L432.27,339.44 L432.37,340.62 L432.48,341.77 L432.58,342.91 L432.69,344.03 L432.79,345.14 L432.90,346.23 L433.01,347.30 L433.11,348.35 L433.11,348.35 L433.22,349.39 L433.32,350.41 L433.43,351.42 L433.53,352.41 L433.64,353.39 L433.75,354.35 L433.85,355.30 L433.96,356.24 L434.06,357.16 L434.17,358.07 L434.17,358.07 L434.27,358.96 L434.38,359.84 L434.48,360.71 L434.59,361.57 L434.70,362.41 L434.80,363.24 L434.91,364.06 L435.01,364.87 L435.12,365.66 L435.22,366.45 L435.22,366.45 L435.33,367.22 L435.43,367.98 L435.54,368.74 L435.65,369.48 L435.75,370.21 L435.86,370.93 L435.96,371.64 L436.07,372.34 L436.17,373.03 L436.28,373.71 L436.28,373.71 L436.39,374.38 L436.49,375.04 L436.60,375.69 L436.70,376.34 L436.81,376.97 L436.91,377.60 L437.02,378.22 L437.12,378.83 L437.23,379.43 L437.34,380.02 L437.34,380.02 L437.44,380.61 L437.55,381.18 L437.65,381.75 L437.76,382.32 L437.86,382.87 L437.97,383.42 L438.08,383.96 L438.18,384.49 L438.29,385.02 L438.39,385.54 L438.39,385.54 L438.50,386.05 L438.60,386.55 L438.71,387.05 L438.81,387.55 L438.92,388.03 L439.03,388.51 L439.13,388.99 L439.24,389.46 L439.34,389.92 L439.45,390.37 L439.45,390.37 L439.55,390.82 L439.66,391.27 L439.77,391.71 L439.87,392.14 L439.98,392.57 L440.08,392.99 L440.19,393.41 L440.29,393.82 L440.40,394.23 L440.50,394.63 L440.50,394.63 L440.61,395.03 L440.72,395.42 L440.82,395.81 L440.93,396.19 L441.03,396.57 L441.14,396.95 L441.24,397.32 L441.35,397.68 L441.46,398.04 L441.56,398.40 L441.56,398.40 L441.67,398.75 L441.77,399.10 L441.88,399.44 L441.98,399.78 L442.09,400.12 L442.19,400.45 L442.30,400.78 L442.41,401.10 L442.51,401.42 L442.62,401.74 L442.62,401.74 L442.72,402.05 L442.83,402.36 L442.93,402.67 L443.04,402.97 L443.15,403.27 L443.25,403.57 L443.36,403.86 L443.46,404.15 L443.57,404.43 L443.67,404.71 L443.67,404.71 L443.78,404.99 L443.88,405.27 L443.99,405.54 L444.10,405.81 L444.20,406.08 L444.31,406.34 L444.41,406.61 L444.52,406.86 L444.62,407.12 L444.73,407.37 L444.73,407.37 L444.83,407.62 L444.94,407.87 L445.05,408.11 L445.15,408.36 L445.26,408.59 L445.36,408.83 L445.47,409.07 L445.57,409.30 L445.68,409.53 L445.79,409.75 L445.79,409.75 L445.89,409.98 L446.00,410.20 L446.10,410.42 L446.21,410.64 L446.31,410.85 L446.42,411.06 L446.52,411.27 L446.63,411.48 L446.74,411.69 L446.84,411.89 L446.84,411.89 L446.95,412.09 L447.05,412.29 L447.16,412.49 L447.26,412.69 L447.37,412.88 L447.48,413.07 L447.58,413.26 L447.69,413.45 L447.79,413.64 L447.90,413.82 L447.90,413.82 L448.00,414.00 L448.11,414.18 L448.21,414.36 L448.32,414.54 L448.43,414.71 L448.53,414.89 L448.64,415.06 L448.74,415.23 L448.85,415.40 L448.95,415.56 L448.95,415.56 L449.06,415.73 L449.17,415.89 L449.27,416.05 L449.38,416.21 L449.48,416.37 L449.59,416.53 L449.69,416.68 L449.80,416.84 L449.90,416.99 L450.01,417.14 L450.01,417.14 L450.12,417.29 L450.22,417.44 L450.33,417.58 L450.43,417.73 L450.54,417.87 L450.64,418.02 L450.75,418.16 L450.86,418.30 L450.96,418.43 L451.07,418.57 L451.07,418.57 L451.17,418.71 L451.28,418.84 L451.38,418.97 L451.49,419.11 L451.59,419.24 L451.70,419.37 L451.81,419.50 L451.91,419.62 L452.02,419.75 L452.12,419.87 L452.12,419.87 L453.18,421.06 L454.23,422.14 L455.29,423.13 L456.35,424.04 L457.40,424.86 L458.46,425.63 L459.52,426.33 L460.57,426.97 L461.63,427.56 L462.68,428.10 L463.74,428.60 L464.80,429.06 L465.85,429.49 L466.91,429.88 L467.97,430.24 L469.02,430.57 L470.08,430.87 L471.13,431.15 L472.19,431.40 L473.25,431.64 L474.30,431.85 L475.36,432.05 L476.41,432.22 L477.47,432.38 L478.53,432.53 L479.58,432.66 L480.64,432.77 L481.70,432.87 L482.75,432.96 L483.81,433.04 L484.86,433.11 L485.92,433.16 L486.98,433.21 L488.03,433.25 L489.09,433.27 L490.14,433.29 L491.20,433.30 L492.26,433.30 L493.31,433.29 L494.37,433.28 L495.43,433.26 L496.48,433.23 L497.54,433.19 L498.59,433.15 L499.65,433.10 L500.71,433.04 L501.76,432.98 L502.82,432.92 L503.87,432.85 L504.93,432.77 L505.99,432.68 L507.04,432.60 L508.10,432.50 L509.16,432.40 L510.21,432.30 L511.27,432.19 L512.32,432.08 L513.38,431.96 L514.44,431.84 L515.49,431.71 L516.55,431.58 L517.61,431.45 L518.66,431.31 L519.72,431.17 L520.77,431.02 L521.83,430.87 L522.89,430.71 L523.94,430.55 L525.00,430.39 L526.05,430.22 L527.11,430.05 L528.17,429.88 L529.22,429.70 L530.28,429.52 L531.34,429.33 L532.39,429.14 L533.45,428.95 L534.50,428.75 L535.56,428.55 L536.62,428.35 L537.67,428.14 L538.73,427.93 L539.78,427.72 L540.84,427.50 L541.90,427.28 L542.95,427.06 L544.01,426.83 L545.07,426.60 L546.12,426.36 L547.18,426.12 L548.23,425.88 L549.29,425.64 L550.35,425.39 L551.40,425.13 L552.46,424.88 L553.51,424.62 L554.57,424.36 L555.63,424.09 L556.68,423.82 L557.74,423.55 L558.80,423.27 L559.85,423.00 L560.91,422.71 L561.96,422.43 L563.02,422.14 L564.08,421.84 L565.13,421.55 L566.19,421.25 L567.25,420.94 L568.30,420.64 L569.36,420.32 L570.41,420.01 L571.47,419.69 L572.53,419.37 L573.58,419.05 L574.64,418.72 L575.69,418.39 L576.75,418.05 L577.81,417.71 L578.86,417.37 L579.92,417.03 L580.98,416.68 L582.03,416.32 L583.09,415.97 L584.14,415.61 L585.20,415.24 L586.26,414.88 L587.31,414.50 L588.37,414.13 L589.42,413.75 L590.48,413.37 L591.54,412.98 L592.59,412.59 L593.65,412.20 L594.71,411.80 L595.76,411.40 L596.82,410.99 L597.87,410.58 L598.93,410.17 L599.99,409.75 L601.04,409.33 L602.10,408.91 L603.16,408.48 L604.21,408.05 L605.27,407.61 L606.32,407.17 L607.38,406.73 L608.44,406.28 L609.49,405.83 L610.55,405.37 L611.60,404.91 L612.66,404.45 L613.72,403.98 L614.77,403.50 L615.83,403.03 L616.89,402.54 L617.94,402.06 L619.00,401.57 L620.05,401.08 L621.11,400.58 L622.17,400.07 L623.22,399.57 L624.28,399.06 L625.33,398.54 L626.39,398.02 L627.45,397.50 L628.50,396.97 L629.56,396.44 L630.62,395.90 L631.67,395.36 L632.73,394.81 L633.78,394.26 L634.84,393.70 L635.90,393.14 L636.95,392.58 L638.01,392.01 L639.06,391.43 L640.12,390.86 L641.18,390.27 L642.23,389.68 L643.29,389.09 L644.35,388.49 L645.40,387.89 L646.46,387.28 L647.51,386.67 L648.57,386.05 L649.63,385.43 L650.68,384.81 L651.74,384.18 L652.80,383.54 L653.85,382.90 L654.91,382.25 L655.96,381.60 L657.02,380.94 L658.08,380.28 L659.13,379.62 L660.19,378.94 L661.24,378.27 L662.30,377.59 L663.36,376.90 L664.41,376.21 L665.47,375.51 L666.53,374.81 L667.58,374.10 L668.64,373.39 L669.69,372.67 L670.75,371.95 L671.81,371.22 L672.86,370.48 L673.92,369.74 L674.97,369.00 L676.03,368.25 L677.09,367.49 L678.14,366.73 L679.20,365.97 L680.26,365.19 L681.31,364.42 L682.37,363.63 L683.42,362.84 L684.48,362.05 L685.54,361.25 L686.59,360.45 L687.65,359.64 L688.70,358.82 L689.76,358.00 L690.82,357.17 L691.87,356.34 L692.93,355.50 L693.99,354.65 L695.04,353.80 L696.10,352.95 L697.15,352.08 L698.21,351.22 L699.27,350.34 L700.32,349.46 L701.38,348.58 L702.44,347.69 L703.49,346.79 L704.55,345.89 L705.60,344.98 L706.66,344.07 L707.72,343.15 L708.77,342.22 L709.83,341.29 L710.88,340.35 L711.94,339.41 L713.00,338.46 L714.05,337.50 L715.11,336.54 L716.17,335.57 L717.22,334.60 L718.28,333.62 L719.33,332.64 L720.39,331.65 L721.45,330.65 L722.50,329.65 L723.56,328.64 L724.61,327.62 L725.67,326.60 L726.73,325.58 L727.78,324.54 L728.84,323.50 L729.90,322.46 L730.95,321.41 L732.01,320.35 L733.06,319.29 L734.12,318.22 L735.18,317.15 L736.23,316.07 L737.29,314.98 L738.35,313.89 L739.40,312.79 L740.46,311.69 L741.51,310.58 L742.57,309.47 L743.63,308.35 L744.68,307.22 L745.74,306.09 L746.79,304.95 L747.85,303.80 L748.91,302.65 L749.96,301.50 L751.02,300.34 L752.08,299.17 L753.13,298.00 L754.19,296.82 L755.24,295.63 L756.30,294.44" stroke="#cf0a85" stroke-width="2.6" stroke-dasharray="5.7,10.18,15.27,10.19" stroke-dashoffset="1.36"/>
</g>
<path d="M80.35,433.3v-5.3M80.35,16.0v5.3M101.47,433.3v-2.8M101.47,16.0v2.8M122.60,433.3v-2.8M122.60,16.0v2.8M143.72,433.3v-2.8M143.72,16.0v2.8M164.84,433.3v-5.3M164.84,16.0v5.3M185.97,433.3v-2.8M185.97,16.0v2.8M207.09,433.3v-2.8M207.09,16.0v2.8M228.21,433.3v-2.8M228.21,16.0v2.8M249.34,433.3v-5.3M249.34,16.0v5.3M270.46,433.3v-2.8M270.46,16.0v2.8M291.58,433.3v-2.8M291.58,16.0v2.8M312.71,433.3v-2.8M312.71,16.0v2.8M333.83,433.3v-5.3M333.83,16.0v5.3M354.95,433.3v-2.8M354.95,16.0v2.8M376.08,433.3v-2.8M376.08,16.0v2.8M397.20,433.3v-2.8M397.20,16.0v2.8M418.32,433.3v-5.3M418.32,16.0v5.3M439.45,433.3v-2.8M439.45,16.0v2.8M460.57,433.3v-2.8M460.57,16.0v2.8M481.70,433.3v-2.8M481.70,16.0v2.8M502.82,433.3v-5.3M502.82,16.0v5.3M523.94,433.3v-2.8M523.94,16.0v2.8M545.07,433.3v-2.8M545.07,16.0v2.8M566.19,433.3v-2.8M566.19,16.0v2.8M587.31,433.3v-5.3M587.31,16.0v5.3M608.44,433.3v-2.8M608.44,16.0v2.8M629.56,433.3v-2.8M629.56,16.0v2.8M650.68,433.3v-2.8M650.68,16.0v2.8M671.81,433.3v-5.3M671.81,16.0v5.3M692.93,433.3v-2.8M692.93,16.0v2.8M714.05,433.3v-2.8M714.05,16.0v2.8M735.18,433.3v-2.8M735.18,16.0v2.8M756.30,433.3v-5.3M756.30,16.0v5.3M80.35,433.30h5.3M756.3,433.30h-5.3M80.35,412.44h2.8M756.3,412.44h-2.8M80.35,391.57h2.8M756.3,391.57h-2.8M80.35,370.70h2.8M756.3,370.70h-2.8M80.35,349.84h5.3M756.3,349.84h-5.3M80.35,328.98h2.8M756.3,328.98h-2.8M80.35,308.11h2.8M756.3,308.11h-2.8M80.35,287.25h2.8M756.3,287.25h-2.8M80.35,266.38h5.3M756.3,266.38h-5.3M80.35,245.52h2.8M756.3,245.52h-2.8M80.35,224.65h2.8M756.3,224.65h-2.8M80.35,203.78h2.8M756.3,203.78h-2.8M80.35,182.92h5.3M756.3,182.92h-5.3M80.35,162.06h2.8M756.3,162.06h-2.8M80.35,141.19h2.8M756.3,141.19h-2.8M80.35,120.32h2.8M756.3,120.32h-2.8M80.35,99.46h5.3M756.3,99.46h-5.3M80.35,78.59h2.8M756.3,78.59h-2.8M80.35,57.73h2.8M756.3,57.73h-2.8M80.35,36.86h2.8M756.3,36.86h-2.8M80.35,16.00h5.3M756.3,16.00h-5.3" stroke="#000" stroke-width="2.6" fill="none"/>
<rect x="80.35" y="16.0" width="675.9499999999999" height="417.3" fill="none" stroke="#000" stroke-width="2.7"/>
<rect x="491" y="54" width="232.20000000000005" height="213.3" rx="7" ry="7" fill="#fff" stroke="#000" stroke-width="3.6"/>
<path d="M505,87.1H565.2" stroke="#1b9e77" stroke-width="2.2" fill="none"/>
<path d="M505,138.0H565.2" stroke="#d95f02" stroke-width="2.2" stroke-dasharray="15.27,10.18" fill="none"/>
<path d="M505,189.0H565.2" stroke="#7570b3" stroke-width="2.2" stroke-dasharray="5.7,10.18" fill="none"/>
<path d="M505,239.9H565.2" stroke="#cf0a85" stroke-width="2.2" stroke-dasharray="5.7,10.18,15.27,10.19" fill="none"/>
<text transform="translate(579,97.1) scale(1.0243,1)" font-family="Liberation Serif, serif" font-size="25">Markovian</text>
<text transform="translate(579,147.8) scale(1.0255,1)" font-family="Liberation Serif, serif" font-size="25">Eaxct</text>
<text transform="translate(579,198.9) scale(1.0078,1)" font-family="Liberation Serif, serif" font-size="25">Exact (lossy)</text>
<text transform="translate(579,249.7) scale(1.017,1)" font-family="Liberation Serif, serif" font-size="25">Exact (NM)</text>
<text transform="translate(83.15,459.15) scale(0.978,1.06)" text-anchor="middle" font-family="Liberation Serif, serif" font-size="27">99.2</text>
<text transform="translate(167.64,459.15) scale(0.978,1.06)" text-anchor="middle" font-family="Liberation Serif, serif" font-size="27">99.4</text>
<text transform="translate(252.14,459.15) scale(0.978,1.06)" text-anchor="middle" font-family="Liberation Serif, serif" font-size="27">99.6</text>
<text transform="translate(336.63,459.15) scale(0.978,1.06)" text-anchor="middle" font-family="Liberation Serif, serif" font-size="27">99.8</text>
<text transform="translate(419.12,459.15) scale(0.978,1.06)" text-anchor="middle" font-family="Liberation Serif, serif" font-size="27">100.0</text>
<text transform="translate(503.62,459.15) scale(0.978,1.06)" text-anchor="middle" font-family="Liberation Serif, serif" font-size="27">100.2</text>
<text transform="translate(588.11,459.15) scale(0.978,1.06)" text-anchor="middle" font-family="Liberation Serif, serif" font-size="27">100.4</text>
<text transform="translate(672.61,459.15) scale(0.978,1.06)" text-anchor="middle" font-family="Liberation Serif, serif" font-size="27">100.6</text>
<text transform="translate(757.10,459.15) scale(0.978,1.06)" text-anchor="middle" font-family="Liberation Serif, serif" font-size="27">100.8</text>
<text transform="translate(72.6,440.70) scale(0.978,1.06)" text-anchor="end" font-family="Liberation Serif, serif" font-size="27">0.0</text>
<text transform="translate(72.6,357.24) scale(0.978,1.06)" text-anchor="end" font-family="Liberation Serif, serif" font-size="27">0.2</text>
<text transform="translate(72.6,273.78) scale(0.978,1.06)" text-anchor="end" font-family="Liberation Serif, serif" font-size="27">0.4</text>
<text transform="translate(72.6,190.32) scale(0.978,1.06)" text-anchor="end" font-family="Liberation Serif, serif" font-size="27">0.6</text>
<text transform="translate(72.6,106.86) scale(0.978,1.06)" text-anchor="end" font-family="Liberation Serif, serif" font-size="27">0.8</text>
<text transform="translate(72.6,23.40) scale(0.978,1.06)" text-anchor="end" font-family="Liberation Serif, serif" font-size="27">1.0</text>
<text transform="translate(417.8,491.1) scale(1.035,1)" text-anchor="middle" font-family="Liberation Serif, serif" font-size="32">k/Γ</text>
<text transform="translate(29.5,224.5) rotate(-90)" text-anchor="middle" font-family="Liberation Serif, serif" font-size="32">T</text>
</svg>
</body></html>
